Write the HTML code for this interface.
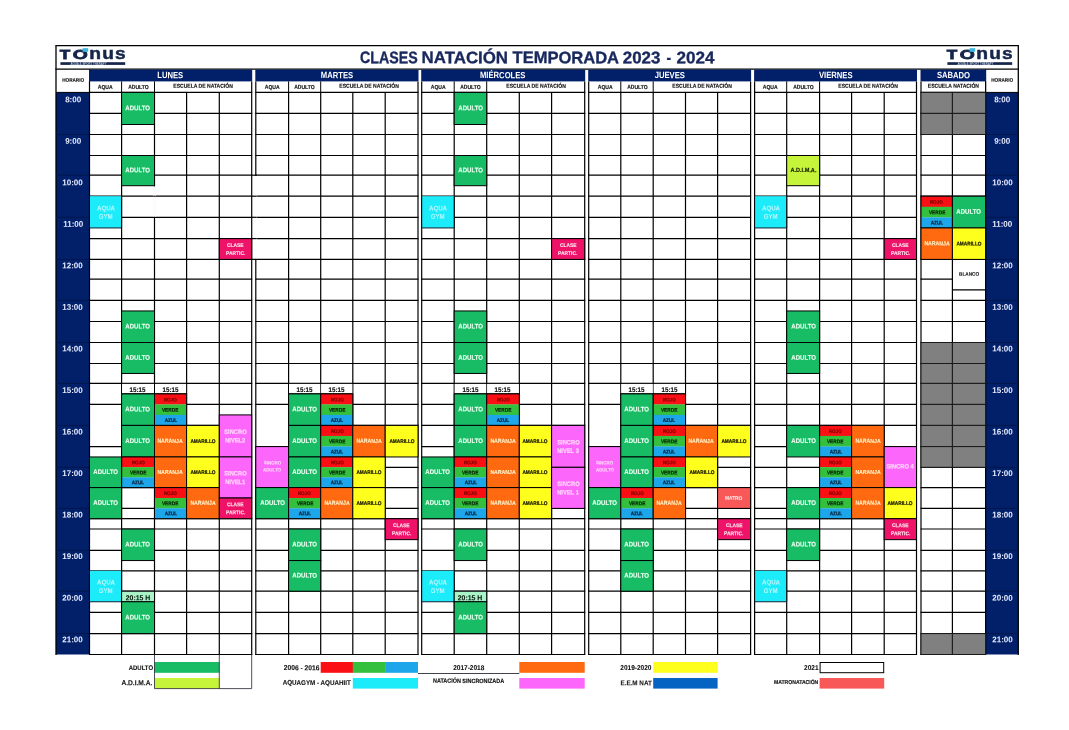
<!DOCTYPE html>
<html lang="es"><head><meta charset="utf-8"><title>Clases Natación Temporada 2023 - 2024</title>
<style>
html,body{margin:0;padding:0;background:#fff}
#p{position:relative;width:1069px;height:730px;overflow:hidden;background:#fff;font-family:"Liberation Sans",Arial,sans-serif}
#p .t{position:absolute;display:block;white-space:nowrap;font-weight:700}
</style></head>
<body><div id="p">
<svg id="g" width="1069" height="730" viewBox="0 0 1069 730" style="position:absolute;left:0;top:0" fill="none">
<rect x="56" y="92.4" width="33.5" height="562.1" fill="#02206a"/>
<rect x="985.6" y="92.4" width="32.7" height="562.1" fill="#02206a"/>
<path d="M55.35 45.7H1018.95" stroke="#000" stroke-width="1.3"/>
<path d="M55.35 69.2H1018.95" stroke="#000" stroke-width="1.3"/>
<path d="M56 45.7V655" stroke="#000" stroke-width="1.3"/>
<path d="M1018.3 45.7V655" stroke="#000" stroke-width="1.3"/>
<path d="M56 92.4H89.5" stroke="#000" stroke-width="1"/>
<path d="M985.6 92.4H1018.3" stroke="#000" stroke-width="1"/>
<path d="M89.5 69.2V92.4" stroke="#000" stroke-width="1"/>
<path d="M985.6 69.2V92.4" stroke="#000" stroke-width="1"/>
<path d="M56 134.5H89.5" stroke="#00164c" stroke-width="1"/>
<path d="M985.6 134.5H1018.3" stroke="#00164c" stroke-width="1"/>
<path d="M56 175.2H89.5" stroke="#00164c" stroke-width="1"/>
<path d="M985.6 175.2H1018.3" stroke="#00164c" stroke-width="1"/>
<path d="M56 217.3H89.5" stroke="#00164c" stroke-width="1"/>
<path d="M985.6 217.3H1018.3" stroke="#00164c" stroke-width="1"/>
<path d="M56 259.4H89.5" stroke="#00164c" stroke-width="1"/>
<path d="M985.6 259.4H1018.3" stroke="#00164c" stroke-width="1"/>
<path d="M56 300.4H89.5" stroke="#00164c" stroke-width="1"/>
<path d="M985.6 300.4H1018.3" stroke="#00164c" stroke-width="1"/>
<path d="M56 342.5H89.5" stroke="#00164c" stroke-width="1"/>
<path d="M985.6 342.5H1018.3" stroke="#00164c" stroke-width="1"/>
<path d="M56 383.4H89.5" stroke="#00164c" stroke-width="1"/>
<path d="M985.6 383.4H1018.3" stroke="#00164c" stroke-width="1"/>
<path d="M56 425.4H89.5" stroke="#00164c" stroke-width="1"/>
<path d="M985.6 425.4H1018.3" stroke="#00164c" stroke-width="1"/>
<path d="M56 467.3H89.5" stroke="#00164c" stroke-width="1"/>
<path d="M985.6 467.3H1018.3" stroke="#00164c" stroke-width="1"/>
<path d="M56 508.4H89.5" stroke="#00164c" stroke-width="1"/>
<path d="M985.6 508.4H1018.3" stroke="#00164c" stroke-width="1"/>
<path d="M56 550.3H89.5" stroke="#00164c" stroke-width="1"/>
<path d="M985.6 550.3H1018.3" stroke="#00164c" stroke-width="1"/>
<path d="M56 591.2H89.5" stroke="#00164c" stroke-width="1"/>
<path d="M985.6 591.2H1018.3" stroke="#00164c" stroke-width="1"/>
<path d="M56 633.6H89.5" stroke="#00164c" stroke-width="1"/>
<path d="M985.6 633.6H1018.3" stroke="#00164c" stroke-width="1"/>
<rect x="89" y="69.6" width="163.2" height="11.8" fill="#02206a"/>
<path d="M121.6 81.4V92.4" stroke="#000" stroke-width="1"/>
<path d="M154.5 81.4V92.4" stroke="#000" stroke-width="1"/>
<rect x="255.3" y="69.6" width="163.2" height="11.8" fill="#02206a"/>
<path d="M288.6 81.4V92.4" stroke="#000" stroke-width="1"/>
<path d="M320.7 81.4V92.4" stroke="#000" stroke-width="1"/>
<rect x="421.2" y="69.6" width="164" height="11.8" fill="#02206a"/>
<path d="M454.2 81.4V92.4" stroke="#000" stroke-width="1"/>
<path d="M486.7 81.4V92.4" stroke="#000" stroke-width="1"/>
<rect x="588.2" y="69.6" width="162.9" height="11.8" fill="#02206a"/>
<path d="M620.8 81.4V92.4" stroke="#000" stroke-width="1"/>
<path d="M653.2 81.4V92.4" stroke="#000" stroke-width="1"/>
<rect x="754.1" y="69.6" width="162.9" height="11.8" fill="#02206a"/>
<path d="M786.7 81.4V92.4" stroke="#000" stroke-width="1"/>
<path d="M819.6 81.4V92.4" stroke="#000" stroke-width="1"/>
<rect x="920.5" y="69.6" width="65.6" height="11.8" fill="#02206a"/>
<path d="M89.5 81.4V655" stroke="#000" stroke-width="1.2"/>
<path d="M121.6 92.4V655" stroke="#000" stroke-width="1.2"/>
<path d="M154.5 92.4V655" stroke="#000" stroke-width="1.2"/>
<path d="M186.6 92.4V655" stroke="#000" stroke-width="1.2"/>
<path d="M219.3 92.4V655" stroke="#000" stroke-width="1.2"/>
<path d="M251.7 81.4V655" stroke="#000" stroke-width="1.2"/>
<path d="M89 92.4H252.2" stroke="#000" stroke-width="1.2"/>
<path d="M89 113.4H122.1" stroke="#000" stroke-width="1.2"/>
<path d="M154 113.4H252.2" stroke="#000" stroke-width="1.2"/>
<path d="M89 134.5H252.2" stroke="#000" stroke-width="1.2"/>
<path d="M89 155.5H252.2" stroke="#000" stroke-width="1.2"/>
<path d="M89 175.2H122.1" stroke="#000" stroke-width="1.2"/>
<path d="M154 175.2H252.2" stroke="#000" stroke-width="1.2"/>
<path d="M89 196.2H252.2" stroke="#000" stroke-width="1.2"/>
<path d="M121.1 217.3H252.2" stroke="#000" stroke-width="1.2"/>
<path d="M89 238.6H252.2" stroke="#000" stroke-width="1.2"/>
<path d="M89 259.4H252.2" stroke="#000" stroke-width="1.2"/>
<path d="M89 279.2H252.2" stroke="#000" stroke-width="1.2"/>
<path d="M89 300.4H252.2" stroke="#000" stroke-width="1.2"/>
<path d="M89 321.5H122.1" stroke="#000" stroke-width="1.2"/>
<path d="M154 321.5H252.2" stroke="#000" stroke-width="1.2"/>
<path d="M89 342.5H252.2" stroke="#000" stroke-width="1.2"/>
<path d="M89 363.5H122.1" stroke="#000" stroke-width="1.2"/>
<path d="M154 363.5H252.2" stroke="#000" stroke-width="1.2"/>
<path d="M89 383.4H252.2" stroke="#000" stroke-width="1.2"/>
<path d="M89 404.4H122.1" stroke="#000" stroke-width="1.2"/>
<path d="M186.1 404.4H252.2" stroke="#000" stroke-width="1.2"/>
<path d="M121.1 425.4H219.8" stroke="#000" stroke-width="1.2"/>
<path d="M89 446.6H122.1" stroke="#000" stroke-width="1.2"/>
<path d="M89 487.6H219.8" stroke="#000" stroke-width="1.2"/>
<path d="M121.1 508.4H155" stroke="#000" stroke-width="1.2"/>
<path d="M89 529H252.2" stroke="#000" stroke-width="1.2"/>
<path d="M89 550.3H122.1" stroke="#000" stroke-width="1.2"/>
<path d="M154 550.3H252.2" stroke="#000" stroke-width="1.2"/>
<path d="M89 570.8H252.2" stroke="#000" stroke-width="1.2"/>
<path d="M121.1 591.2H252.2" stroke="#000" stroke-width="1.2"/>
<path d="M89 612.3H122.1" stroke="#000" stroke-width="1.2"/>
<path d="M154 612.3H252.2" stroke="#000" stroke-width="1.2"/>
<path d="M89 633.6H252.2" stroke="#000" stroke-width="1.2"/>
<path d="M89 654.5H252.2" stroke="#000" stroke-width="1.2"/>
<path d="M89 518.7H252.2" stroke="#000" stroke-width="1.2"/>
<path d="M255.8 81.4V655" stroke="#000" stroke-width="1.2"/>
<path d="M288.6 92.4V655" stroke="#000" stroke-width="1.2"/>
<path d="M320.7 92.4V655" stroke="#000" stroke-width="1.2"/>
<path d="M352.8 92.4V655" stroke="#000" stroke-width="1.2"/>
<path d="M385.2 92.4V655" stroke="#000" stroke-width="1.2"/>
<path d="M418 81.4V655" stroke="#000" stroke-width="1.2"/>
<path d="M255.3 92.4H418.5" stroke="#000" stroke-width="1.2"/>
<path d="M255.3 113.4H418.5" stroke="#000" stroke-width="1.2"/>
<path d="M255.3 134.5H418.5" stroke="#000" stroke-width="1.2"/>
<path d="M255.3 155.5H418.5" stroke="#000" stroke-width="1.2"/>
<path d="M255.3 175.2H418.5" stroke="#000" stroke-width="1.2"/>
<path d="M255.3 196.2H418.5" stroke="#000" stroke-width="1.2"/>
<path d="M255.3 217.3H418.5" stroke="#000" stroke-width="1.2"/>
<path d="M255.3 238.6H418.5" stroke="#000" stroke-width="1.2"/>
<path d="M255.3 259.4H418.5" stroke="#000" stroke-width="1.2"/>
<path d="M255.3 279.2H418.5" stroke="#000" stroke-width="1.2"/>
<path d="M255.3 300.4H418.5" stroke="#000" stroke-width="1.2"/>
<path d="M255.3 321.5H418.5" stroke="#000" stroke-width="1.2"/>
<path d="M255.3 342.5H418.5" stroke="#000" stroke-width="1.2"/>
<path d="M255.3 363.5H418.5" stroke="#000" stroke-width="1.2"/>
<path d="M255.3 383.4H418.5" stroke="#000" stroke-width="1.2"/>
<path d="M255.3 404.4H289.1" stroke="#000" stroke-width="1.2"/>
<path d="M352.3 404.4H418.5" stroke="#000" stroke-width="1.2"/>
<path d="M288.1 425.4H418.5" stroke="#000" stroke-width="1.2"/>
<path d="M255.3 446.6H289.1" stroke="#000" stroke-width="1.2"/>
<path d="M384.7 467.3H418.5" stroke="#000" stroke-width="1.2"/>
<path d="M255.3 487.6H418.5" stroke="#000" stroke-width="1.2"/>
<path d="M384.7 508.4H418.5" stroke="#000" stroke-width="1.2"/>
<path d="M255.3 529H385.7" stroke="#000" stroke-width="1.2"/>
<path d="M255.3 550.3H289.1" stroke="#000" stroke-width="1.2"/>
<path d="M320.2 550.3H418.5" stroke="#000" stroke-width="1.2"/>
<path d="M255.3 570.8H289.1" stroke="#000" stroke-width="1.2"/>
<path d="M320.2 570.8H418.5" stroke="#000" stroke-width="1.2"/>
<path d="M255.3 591.2H418.5" stroke="#000" stroke-width="1.2"/>
<path d="M255.3 612.3H418.5" stroke="#000" stroke-width="1.2"/>
<path d="M255.3 633.6H418.5" stroke="#000" stroke-width="1.2"/>
<path d="M255.3 654.5H418.5" stroke="#000" stroke-width="1.2"/>
<path d="M255.3 518.7H418.5" stroke="#000" stroke-width="1.2"/>
<path d="M421.7 81.4V655" stroke="#000" stroke-width="1.2"/>
<path d="M454.2 92.4V655" stroke="#000" stroke-width="1.2"/>
<path d="M486.7 92.4V655" stroke="#000" stroke-width="1.2"/>
<path d="M519.3 92.4V655" stroke="#000" stroke-width="1.2"/>
<path d="M551.6 92.4V655" stroke="#000" stroke-width="1.2"/>
<path d="M584.7 81.4V655" stroke="#000" stroke-width="1.2"/>
<path d="M421.2 92.4H585.2" stroke="#000" stroke-width="1.2"/>
<path d="M421.2 113.4H454.7" stroke="#000" stroke-width="1.2"/>
<path d="M486.2 113.4H585.2" stroke="#000" stroke-width="1.2"/>
<path d="M421.2 134.5H585.2" stroke="#000" stroke-width="1.2"/>
<path d="M421.2 155.5H585.2" stroke="#000" stroke-width="1.2"/>
<path d="M421.2 175.2H454.7" stroke="#000" stroke-width="1.2"/>
<path d="M486.2 175.2H585.2" stroke="#000" stroke-width="1.2"/>
<path d="M421.2 196.2H585.2" stroke="#000" stroke-width="1.2"/>
<path d="M453.7 217.3H585.2" stroke="#000" stroke-width="1.2"/>
<path d="M421.2 238.6H585.2" stroke="#000" stroke-width="1.2"/>
<path d="M421.2 259.4H585.2" stroke="#000" stroke-width="1.2"/>
<path d="M421.2 279.2H585.2" stroke="#000" stroke-width="1.2"/>
<path d="M421.2 300.4H585.2" stroke="#000" stroke-width="1.2"/>
<path d="M421.2 321.5H454.7" stroke="#000" stroke-width="1.2"/>
<path d="M486.2 321.5H585.2" stroke="#000" stroke-width="1.2"/>
<path d="M421.2 342.5H585.2" stroke="#000" stroke-width="1.2"/>
<path d="M421.2 363.5H454.7" stroke="#000" stroke-width="1.2"/>
<path d="M486.2 363.5H585.2" stroke="#000" stroke-width="1.2"/>
<path d="M421.2 383.4H585.2" stroke="#000" stroke-width="1.2"/>
<path d="M421.2 404.4H454.7" stroke="#000" stroke-width="1.2"/>
<path d="M518.8 404.4H585.2" stroke="#000" stroke-width="1.2"/>
<path d="M421.2 425.4H585.2" stroke="#000" stroke-width="1.2"/>
<path d="M421.2 446.6H454.7" stroke="#000" stroke-width="1.2"/>
<path d="M551.1 467.3H585.2" stroke="#000" stroke-width="1.2"/>
<path d="M421.2 487.6H552.1" stroke="#000" stroke-width="1.2"/>
<path d="M551.1 508.4H585.2" stroke="#000" stroke-width="1.2"/>
<path d="M421.2 529H585.2" stroke="#000" stroke-width="1.2"/>
<path d="M421.2 550.3H454.7" stroke="#000" stroke-width="1.2"/>
<path d="M486.2 550.3H585.2" stroke="#000" stroke-width="1.2"/>
<path d="M421.2 570.8H585.2" stroke="#000" stroke-width="1.2"/>
<path d="M453.7 591.2H585.2" stroke="#000" stroke-width="1.2"/>
<path d="M421.2 612.3H454.7" stroke="#000" stroke-width="1.2"/>
<path d="M486.2 612.3H585.2" stroke="#000" stroke-width="1.2"/>
<path d="M421.2 633.6H585.2" stroke="#000" stroke-width="1.2"/>
<path d="M421.2 654.5H585.2" stroke="#000" stroke-width="1.2"/>
<path d="M421.2 518.7H585.2" stroke="#000" stroke-width="1.2"/>
<path d="M588.7 81.4V655" stroke="#000" stroke-width="1.2"/>
<path d="M620.8 92.4V655" stroke="#000" stroke-width="1.2"/>
<path d="M653.2 92.4V655" stroke="#000" stroke-width="1.2"/>
<path d="M685.5 92.4V655" stroke="#000" stroke-width="1.2"/>
<path d="M717.6 92.4V655" stroke="#000" stroke-width="1.2"/>
<path d="M750.6 81.4V655" stroke="#000" stroke-width="1.2"/>
<path d="M588.2 92.4H751.1" stroke="#000" stroke-width="1.2"/>
<path d="M588.2 113.4H751.1" stroke="#000" stroke-width="1.2"/>
<path d="M588.2 134.5H751.1" stroke="#000" stroke-width="1.2"/>
<path d="M588.2 155.5H751.1" stroke="#000" stroke-width="1.2"/>
<path d="M588.2 175.2H751.1" stroke="#000" stroke-width="1.2"/>
<path d="M588.2 196.2H751.1" stroke="#000" stroke-width="1.2"/>
<path d="M588.2 217.3H751.1" stroke="#000" stroke-width="1.2"/>
<path d="M588.2 238.6H751.1" stroke="#000" stroke-width="1.2"/>
<path d="M588.2 259.4H751.1" stroke="#000" stroke-width="1.2"/>
<path d="M588.2 279.2H751.1" stroke="#000" stroke-width="1.2"/>
<path d="M588.2 300.4H751.1" stroke="#000" stroke-width="1.2"/>
<path d="M588.2 321.5H751.1" stroke="#000" stroke-width="1.2"/>
<path d="M588.2 342.5H751.1" stroke="#000" stroke-width="1.2"/>
<path d="M588.2 363.5H751.1" stroke="#000" stroke-width="1.2"/>
<path d="M588.2 383.4H751.1" stroke="#000" stroke-width="1.2"/>
<path d="M588.2 404.4H621.3" stroke="#000" stroke-width="1.2"/>
<path d="M685 404.4H751.1" stroke="#000" stroke-width="1.2"/>
<path d="M620.3 425.4H751.1" stroke="#000" stroke-width="1.2"/>
<path d="M588.2 446.6H621.3" stroke="#000" stroke-width="1.2"/>
<path d="M717.1 467.3H751.1" stroke="#000" stroke-width="1.2"/>
<path d="M588.2 487.6H751.1" stroke="#000" stroke-width="1.2"/>
<path d="M685 508.4H751.1" stroke="#000" stroke-width="1.2"/>
<path d="M588.2 529H718.1" stroke="#000" stroke-width="1.2"/>
<path d="M588.2 550.3H621.3" stroke="#000" stroke-width="1.2"/>
<path d="M652.7 550.3H751.1" stroke="#000" stroke-width="1.2"/>
<path d="M588.2 570.8H621.3" stroke="#000" stroke-width="1.2"/>
<path d="M652.7 570.8H751.1" stroke="#000" stroke-width="1.2"/>
<path d="M588.2 591.2H751.1" stroke="#000" stroke-width="1.2"/>
<path d="M588.2 612.3H751.1" stroke="#000" stroke-width="1.2"/>
<path d="M588.2 633.6H751.1" stroke="#000" stroke-width="1.2"/>
<path d="M588.2 654.5H751.1" stroke="#000" stroke-width="1.2"/>
<path d="M588.2 518.7H751.1" stroke="#000" stroke-width="1.2"/>
<path d="M754.6 81.4V655" stroke="#000" stroke-width="1.2"/>
<path d="M786.7 92.4V655" stroke="#000" stroke-width="1.2"/>
<path d="M819.6 92.4V655" stroke="#000" stroke-width="1.2"/>
<path d="M851.6 92.4V655" stroke="#000" stroke-width="1.2"/>
<path d="M884.2 92.4V655" stroke="#000" stroke-width="1.2"/>
<path d="M916.5 81.4V655" stroke="#000" stroke-width="1.2"/>
<path d="M754.1 92.4H917" stroke="#000" stroke-width="1.2"/>
<path d="M754.1 113.4H917" stroke="#000" stroke-width="1.2"/>
<path d="M754.1 134.5H917" stroke="#000" stroke-width="1.2"/>
<path d="M754.1 155.5H917" stroke="#000" stroke-width="1.2"/>
<path d="M754.1 175.2H787.2" stroke="#000" stroke-width="1.2"/>
<path d="M819.1 175.2H917" stroke="#000" stroke-width="1.2"/>
<path d="M754.1 196.2H917" stroke="#000" stroke-width="1.2"/>
<path d="M786.2 217.3H917" stroke="#000" stroke-width="1.2"/>
<path d="M754.1 238.6H917" stroke="#000" stroke-width="1.2"/>
<path d="M754.1 259.4H917" stroke="#000" stroke-width="1.2"/>
<path d="M754.1 279.2H917" stroke="#000" stroke-width="1.2"/>
<path d="M754.1 300.4H917" stroke="#000" stroke-width="1.2"/>
<path d="M754.1 321.5H787.2" stroke="#000" stroke-width="1.2"/>
<path d="M819.1 321.5H917" stroke="#000" stroke-width="1.2"/>
<path d="M754.1 342.5H917" stroke="#000" stroke-width="1.2"/>
<path d="M754.1 363.5H787.2" stroke="#000" stroke-width="1.2"/>
<path d="M819.1 363.5H917" stroke="#000" stroke-width="1.2"/>
<path d="M754.1 383.4H917" stroke="#000" stroke-width="1.2"/>
<path d="M754.1 404.4H917" stroke="#000" stroke-width="1.2"/>
<path d="M754.1 425.4H917" stroke="#000" stroke-width="1.2"/>
<path d="M754.1 446.6H787.2" stroke="#000" stroke-width="1.2"/>
<path d="M883.7 446.6H917" stroke="#000" stroke-width="1.2"/>
<path d="M754.1 467.3H820.1" stroke="#000" stroke-width="1.2"/>
<path d="M754.1 487.6H917" stroke="#000" stroke-width="1.2"/>
<path d="M754.1 508.4H787.2" stroke="#000" stroke-width="1.2"/>
<path d="M754.1 529H884.7" stroke="#000" stroke-width="1.2"/>
<path d="M754.1 550.3H787.2" stroke="#000" stroke-width="1.2"/>
<path d="M819.1 550.3H917" stroke="#000" stroke-width="1.2"/>
<path d="M754.1 570.8H917" stroke="#000" stroke-width="1.2"/>
<path d="M786.2 591.2H917" stroke="#000" stroke-width="1.2"/>
<path d="M754.1 612.3H917" stroke="#000" stroke-width="1.2"/>
<path d="M754.1 633.6H917" stroke="#000" stroke-width="1.2"/>
<path d="M754.1 654.5H917" stroke="#000" stroke-width="1.2"/>
<path d="M754.1 518.7H917" stroke="#000" stroke-width="1.2"/>
<path d="M921 81.4V655" stroke="#000" stroke-width="1.2"/>
<path d="M952.4 92.4V655" stroke="#000" stroke-width="1.2"/>
<path d="M985.6 81.4V655" stroke="#000" stroke-width="1.2"/>
<path d="M920.5 92.4H986.1" stroke="#000" stroke-width="1.2"/>
<path d="M920.5 113.4H986.1" stroke="#000" stroke-width="1.2"/>
<path d="M920.5 134.5H986.1" stroke="#000" stroke-width="1.2"/>
<path d="M920.5 155.5H986.1" stroke="#000" stroke-width="1.2"/>
<path d="M920.5 175.2H986.1" stroke="#000" stroke-width="1.2"/>
<path d="M920.5 196.2H986.1" stroke="#000" stroke-width="1.2"/>
<path d="M920.5 259.4H986.1" stroke="#000" stroke-width="1.2"/>
<path d="M920.5 279.2H952.9" stroke="#000" stroke-width="1.2"/>
<path d="M920.5 300.4H986.1" stroke="#000" stroke-width="1.2"/>
<path d="M920.5 321.5H986.1" stroke="#000" stroke-width="1.2"/>
<path d="M920.5 342.5H986.1" stroke="#000" stroke-width="1.2"/>
<path d="M920.5 363.5H986.1" stroke="#000" stroke-width="1.2"/>
<path d="M920.5 383.4H986.1" stroke="#000" stroke-width="1.2"/>
<path d="M920.5 404.4H986.1" stroke="#000" stroke-width="1.2"/>
<path d="M920.5 425.4H986.1" stroke="#000" stroke-width="1.2"/>
<path d="M920.5 446.6H986.1" stroke="#000" stroke-width="1.2"/>
<path d="M920.5 467.3H986.1" stroke="#000" stroke-width="1.2"/>
<path d="M920.5 487.6H986.1" stroke="#000" stroke-width="1.2"/>
<path d="M920.5 508.4H986.1" stroke="#000" stroke-width="1.2"/>
<path d="M920.5 529H986.1" stroke="#000" stroke-width="1.2"/>
<path d="M920.5 550.3H986.1" stroke="#000" stroke-width="1.2"/>
<path d="M920.5 570.8H986.1" stroke="#000" stroke-width="1.2"/>
<path d="M920.5 591.2H986.1" stroke="#000" stroke-width="1.2"/>
<path d="M920.5 612.3H986.1" stroke="#000" stroke-width="1.2"/>
<path d="M920.5 633.6H986.1" stroke="#000" stroke-width="1.2"/>
<path d="M920.5 654.5H986.1" stroke="#000" stroke-width="1.2"/>
<rect x="254.5" y="175.8" width="2.6" height="83" fill="#fff"/>
<path d="M251.7 175.2H256.8" stroke="#000" stroke-width="1.2"/>
<path d="M251.7 196.2H256.8" stroke="#000" stroke-width="1.2"/>
<path d="M251.7 217.3H256.8" stroke="#000" stroke-width="1.2"/>
<path d="M251.7 238.6H256.8" stroke="#000" stroke-width="1.2"/>
<path d="M251.7 259.4H256.8" stroke="#000" stroke-width="1.2"/>
<rect x="153.2" y="186.3" width="2.6" height="9.3" fill="#fff"/>
<rect x="153.2" y="196.8" width="2.6" height="19.9" fill="#fff"/>
<rect x="121.6" y="92.4" width="32.9" height="32.1" fill="#18bc64" stroke="#000" stroke-width="1"/>
<rect x="121.6" y="155.5" width="32.9" height="30.2" fill="#18bc64" stroke="#000" stroke-width="1"/>
<rect x="89.5" y="196.2" width="32.1" height="31.75" fill="#1cecfa"/>
<path d="M89.5 227.95H121.6" stroke="#123" stroke-width="1"/>
<path d="M121.6 196.2V227.95" stroke="#000" stroke-width="1"/>
<path d="M89.5 196.2V227.95" stroke="#000" stroke-width="1"/>
<rect x="219.3" y="238.6" width="32.4" height="20.8" fill="#ee1268" stroke="#000" stroke-width="1"/>
<rect x="121.6" y="310.95" width="32.9" height="31.55" fill="#18bc64" stroke="#000" stroke-width="1"/>
<rect x="121.6" y="342.5" width="32.9" height="30.95" fill="#18bc64" stroke="#000" stroke-width="1"/>
<rect x="454.2" y="92.4" width="32.5" height="32.1" fill="#18bc64" stroke="#000" stroke-width="1"/>
<rect x="454.2" y="155.5" width="32.5" height="30.2" fill="#18bc64" stroke="#000" stroke-width="1"/>
<rect x="421.7" y="196.2" width="32.5" height="31.75" fill="#1cecfa"/>
<path d="M421.7 227.95H454.2" stroke="#123" stroke-width="1"/>
<path d="M454.2 196.2V227.95" stroke="#000" stroke-width="1"/>
<path d="M421.7 196.2V227.95" stroke="#000" stroke-width="1"/>
<rect x="551.6" y="238.6" width="33.1" height="20.8" fill="#ee1268" stroke="#000" stroke-width="1"/>
<rect x="454.2" y="310.95" width="32.5" height="31.55" fill="#18bc64" stroke="#000" stroke-width="1"/>
<rect x="454.2" y="342.5" width="32.5" height="30.95" fill="#18bc64" stroke="#000" stroke-width="1"/>
<rect x="786.7" y="155.5" width="32.9" height="30.2" fill="#c6f43a" stroke="#000" stroke-width="1"/>
<rect x="754.6" y="196.2" width="32.1" height="31.75" fill="#1cecfa"/>
<path d="M754.6 227.95H786.7" stroke="#123" stroke-width="1"/>
<path d="M786.7 196.2V227.95" stroke="#000" stroke-width="1"/>
<path d="M754.6 196.2V227.95" stroke="#000" stroke-width="1"/>
<rect x="884.2" y="238.6" width="32.3" height="20.8" fill="#ee1268" stroke="#000" stroke-width="1"/>
<rect x="786.7" y="310.95" width="32.9" height="31.55" fill="#18bc64" stroke="#000" stroke-width="1"/>
<rect x="786.7" y="342.5" width="32.9" height="30.95" fill="#18bc64" stroke="#000" stroke-width="1"/>
<rect x="122.1" y="383.9" width="31.9" height="10" fill="#fff"/>
<path d="M121.6 393.9H154.5" stroke="#000" stroke-width="1.2"/>
<rect x="155" y="383.9" width="31.1" height="10" fill="#fff"/>
<path d="M154.5 393.9H186.6" stroke="#000" stroke-width="1.2"/>
<rect x="121.6" y="393.9" width="32.9" height="31.5" fill="#18bc64" stroke="#000" stroke-width="1"/>
<rect x="121.6" y="425.4" width="32.9" height="31.55" fill="#18bc64" stroke="#000" stroke-width="1"/>
<rect x="121.6" y="456.95" width="32.9" height="10.42" fill="#fa0f14"/>
<rect x="121.6" y="467.17" width="32.9" height="10.42" fill="#34c03c"/>
<rect x="121.6" y="477.38" width="32.9" height="10.22" fill="#1ea6ea"/>
<rect x="121.6" y="456.95" width="32.9" height="30.65" fill="none" stroke="#000" stroke-width="1"/>
<rect x="121.6" y="529" width="32.9" height="31.55" fill="#18bc64" stroke="#000" stroke-width="1"/>
<rect x="89.5" y="456.95" width="32.1" height="30.65" fill="#18bc64" stroke="#000" stroke-width="1"/>
<rect x="89.5" y="487.6" width="32.1" height="31.1" fill="#18bc64" stroke="#000" stroke-width="1"/>
<rect x="154.5" y="393.9" width="32.1" height="10.7" fill="#fa0f14"/>
<rect x="154.5" y="404.4" width="32.1" height="10.7" fill="#34c03c"/>
<rect x="154.5" y="414.9" width="32.1" height="10.5" fill="#1ea6ea"/>
<rect x="154.5" y="393.9" width="32.1" height="31.5" fill="none" stroke="#000" stroke-width="1"/>
<rect x="154.5" y="425.4" width="32.1" height="31.55" fill="#ff6a10" stroke="#000" stroke-width="1"/>
<rect x="154.5" y="456.95" width="32.1" height="30.65" fill="#ff6a10" stroke="#000" stroke-width="1"/>
<rect x="154.5" y="487.6" width="32.1" height="10.57" fill="#fa0f14"/>
<rect x="154.5" y="497.97" width="32.1" height="10.57" fill="#34c03c"/>
<rect x="154.5" y="508.33" width="32.1" height="10.37" fill="#1ea6ea"/>
<rect x="154.5" y="487.6" width="32.1" height="31.1" fill="none" stroke="#000" stroke-width="1"/>
<rect x="186.6" y="425.4" width="32.7" height="31.55" fill="#ffff1e" stroke="#000" stroke-width="1"/>
<rect x="186.6" y="456.95" width="32.7" height="30.65" fill="#ffff1e" stroke="#000" stroke-width="1"/>
<rect x="186.6" y="487.6" width="32.7" height="31.1" fill="#ff6a10" stroke="#000" stroke-width="1"/>
<rect x="219.3" y="414.9" width="32.4" height="42.05" fill="#fd66fa" stroke="#000" stroke-width="1"/>
<rect x="219.3" y="456.95" width="32.4" height="41.05" fill="#fd66fa" stroke="#000" stroke-width="1"/>
<rect x="219.3" y="498" width="32.4" height="20.7" fill="#ee1268" stroke="#000" stroke-width="1"/>
<rect x="89.5" y="570.8" width="32.1" height="30.95" fill="#1cecfa"/>
<path d="M89.5 601.75H121.6" stroke="#123" stroke-width="1"/>
<path d="M121.6 570.8V601.75" stroke="#000" stroke-width="1"/>
<path d="M89.5 570.8V601.75" stroke="#000" stroke-width="1"/>
<rect x="121.6" y="591.2" width="32.9" height="10.55" fill="#a8f4c6" stroke="#000" stroke-width="1"/>
<rect x="121.6" y="601.75" width="32.9" height="31.85" fill="#18bc64" stroke="#000" stroke-width="1"/>
<rect x="255.8" y="446.6" width="32.8" height="41" fill="#fd66fa" stroke="#000" stroke-width="1"/>
<rect x="255.8" y="487.6" width="32.8" height="31.1" fill="#18bc64" stroke="#000" stroke-width="1"/>
<rect x="289.1" y="383.9" width="31.1" height="10" fill="#fff"/>
<path d="M288.6 393.9H320.7" stroke="#000" stroke-width="1.2"/>
<rect x="321.2" y="383.9" width="31.1" height="10" fill="#fff"/>
<path d="M320.7 393.9H352.8" stroke="#000" stroke-width="1.2"/>
<rect x="288.6" y="393.9" width="32.1" height="31.5" fill="#18bc64" stroke="#000" stroke-width="1"/>
<rect x="288.6" y="425.4" width="32.1" height="31.55" fill="#18bc64" stroke="#000" stroke-width="1"/>
<rect x="288.6" y="456.95" width="32.1" height="30.65" fill="#18bc64" stroke="#000" stroke-width="1"/>
<rect x="288.6" y="487.6" width="32.1" height="10.57" fill="#fa0f14"/>
<rect x="288.6" y="497.97" width="32.1" height="10.57" fill="#34c03c"/>
<rect x="288.6" y="508.33" width="32.1" height="10.37" fill="#1ea6ea"/>
<rect x="288.6" y="487.6" width="32.1" height="31.1" fill="none" stroke="#000" stroke-width="1"/>
<rect x="288.6" y="529" width="32.1" height="31.55" fill="#18bc64" stroke="#000" stroke-width="1"/>
<rect x="288.6" y="560.55" width="32.1" height="30.65" fill="#18bc64" stroke="#000" stroke-width="1"/>
<rect x="320.7" y="393.9" width="32.1" height="10.7" fill="#fa0f14"/>
<rect x="320.7" y="404.4" width="32.1" height="10.7" fill="#34c03c"/>
<rect x="320.7" y="414.9" width="32.1" height="10.5" fill="#1ea6ea"/>
<rect x="320.7" y="393.9" width="32.1" height="31.5" fill="none" stroke="#000" stroke-width="1"/>
<rect x="320.7" y="425.4" width="32.1" height="10.72" fill="#fa0f14"/>
<rect x="320.7" y="435.92" width="32.1" height="10.72" fill="#34c03c"/>
<rect x="320.7" y="446.43" width="32.1" height="10.52" fill="#1ea6ea"/>
<rect x="320.7" y="425.4" width="32.1" height="31.55" fill="none" stroke="#000" stroke-width="1"/>
<rect x="320.7" y="456.95" width="32.1" height="10.42" fill="#fa0f14"/>
<rect x="320.7" y="467.17" width="32.1" height="10.42" fill="#34c03c"/>
<rect x="320.7" y="477.38" width="32.1" height="10.22" fill="#1ea6ea"/>
<rect x="320.7" y="456.95" width="32.1" height="30.65" fill="none" stroke="#000" stroke-width="1"/>
<rect x="320.7" y="487.6" width="32.1" height="31.1" fill="#ff6a10" stroke="#000" stroke-width="1"/>
<rect x="352.8" y="425.4" width="32.4" height="31.55" fill="#ff6a10" stroke="#000" stroke-width="1"/>
<rect x="352.8" y="456.95" width="32.4" height="30.65" fill="#ffff1e" stroke="#000" stroke-width="1"/>
<rect x="385.2" y="425.4" width="32.8" height="31.55" fill="#ffff1e" stroke="#000" stroke-width="1"/>
<rect x="385.2" y="518.7" width="32.8" height="20.95" fill="#ee1268" stroke="#000" stroke-width="1"/>
<rect x="588.7" y="446.6" width="32.1" height="41" fill="#fd66fa" stroke="#000" stroke-width="1"/>
<rect x="588.7" y="487.6" width="32.1" height="31.1" fill="#18bc64" stroke="#000" stroke-width="1"/>
<rect x="621.3" y="383.9" width="31.4" height="10" fill="#fff"/>
<path d="M620.8 393.9H653.2" stroke="#000" stroke-width="1.2"/>
<rect x="653.7" y="383.9" width="31.3" height="10" fill="#fff"/>
<path d="M653.2 393.9H685.5" stroke="#000" stroke-width="1.2"/>
<rect x="620.8" y="393.9" width="32.4" height="31.5" fill="#18bc64" stroke="#000" stroke-width="1"/>
<rect x="620.8" y="425.4" width="32.4" height="31.55" fill="#18bc64" stroke="#000" stroke-width="1"/>
<rect x="620.8" y="456.95" width="32.4" height="30.65" fill="#18bc64" stroke="#000" stroke-width="1"/>
<rect x="620.8" y="487.6" width="32.4" height="10.57" fill="#fa0f14"/>
<rect x="620.8" y="497.97" width="32.4" height="10.57" fill="#34c03c"/>
<rect x="620.8" y="508.33" width="32.4" height="10.37" fill="#1ea6ea"/>
<rect x="620.8" y="487.6" width="32.4" height="31.1" fill="none" stroke="#000" stroke-width="1"/>
<rect x="620.8" y="529" width="32.4" height="31.55" fill="#18bc64" stroke="#000" stroke-width="1"/>
<rect x="620.8" y="560.55" width="32.4" height="30.65" fill="#18bc64" stroke="#000" stroke-width="1"/>
<rect x="653.2" y="393.9" width="32.3" height="10.7" fill="#fa0f14"/>
<rect x="653.2" y="404.4" width="32.3" height="10.7" fill="#34c03c"/>
<rect x="653.2" y="414.9" width="32.3" height="10.5" fill="#1ea6ea"/>
<rect x="653.2" y="393.9" width="32.3" height="31.5" fill="none" stroke="#000" stroke-width="1"/>
<rect x="653.2" y="425.4" width="32.3" height="10.72" fill="#fa0f14"/>
<rect x="653.2" y="435.92" width="32.3" height="10.72" fill="#34c03c"/>
<rect x="653.2" y="446.43" width="32.3" height="10.52" fill="#1ea6ea"/>
<rect x="653.2" y="425.4" width="32.3" height="31.55" fill="none" stroke="#000" stroke-width="1"/>
<rect x="653.2" y="456.95" width="32.3" height="10.42" fill="#fa0f14"/>
<rect x="653.2" y="467.17" width="32.3" height="10.42" fill="#34c03c"/>
<rect x="653.2" y="477.38" width="32.3" height="10.22" fill="#1ea6ea"/>
<rect x="653.2" y="456.95" width="32.3" height="30.65" fill="none" stroke="#000" stroke-width="1"/>
<rect x="653.2" y="487.6" width="32.3" height="31.1" fill="#ff6a10" stroke="#000" stroke-width="1"/>
<rect x="685.5" y="425.4" width="32.1" height="31.55" fill="#ff6a10" stroke="#000" stroke-width="1"/>
<rect x="685.5" y="456.95" width="32.1" height="30.65" fill="#ffff1e" stroke="#000" stroke-width="1"/>
<rect x="717.6" y="425.4" width="33" height="31.55" fill="#ffff1e" stroke="#000" stroke-width="1"/>
<rect x="717.6" y="518.7" width="33" height="20.95" fill="#ee1268" stroke="#000" stroke-width="1"/>
<rect x="352.8" y="487.6" width="32.4" height="31.1" fill="#ffff1e" stroke="#000" stroke-width="1"/>
<rect x="717.6" y="487.6" width="33" height="20.8" fill="#f85858" stroke="#000" stroke-width="1"/>
<rect x="421.7" y="456.95" width="32.5" height="30.65" fill="#18bc64" stroke="#000" stroke-width="1"/>
<rect x="421.7" y="487.6" width="32.5" height="31.1" fill="#18bc64" stroke="#000" stroke-width="1"/>
<rect x="421.7" y="570.8" width="32.5" height="30.95" fill="#1cecfa"/>
<path d="M421.7 601.75H454.2" stroke="#123" stroke-width="1"/>
<path d="M454.2 570.8V601.75" stroke="#000" stroke-width="1"/>
<path d="M421.7 570.8V601.75" stroke="#000" stroke-width="1"/>
<rect x="454.7" y="383.9" width="31.5" height="10" fill="#fff"/>
<path d="M454.2 393.9H486.7" stroke="#000" stroke-width="1.2"/>
<rect x="487.2" y="383.9" width="31.6" height="10" fill="#fff"/>
<path d="M486.7 393.9H519.3" stroke="#000" stroke-width="1.2"/>
<rect x="454.2" y="393.9" width="32.5" height="31.5" fill="#18bc64" stroke="#000" stroke-width="1"/>
<rect x="454.2" y="425.4" width="32.5" height="31.55" fill="#18bc64" stroke="#000" stroke-width="1"/>
<rect x="454.2" y="456.95" width="32.5" height="10.42" fill="#fa0f14"/>
<rect x="454.2" y="467.17" width="32.5" height="10.42" fill="#34c03c"/>
<rect x="454.2" y="477.38" width="32.5" height="10.22" fill="#1ea6ea"/>
<rect x="454.2" y="456.95" width="32.5" height="30.65" fill="none" stroke="#000" stroke-width="1"/>
<rect x="454.2" y="487.6" width="32.5" height="10.57" fill="#fa0f14"/>
<rect x="454.2" y="497.97" width="32.5" height="10.57" fill="#34c03c"/>
<rect x="454.2" y="508.33" width="32.5" height="10.37" fill="#1ea6ea"/>
<rect x="454.2" y="487.6" width="32.5" height="31.1" fill="none" stroke="#000" stroke-width="1"/>
<rect x="454.2" y="529" width="32.5" height="31.55" fill="#18bc64" stroke="#000" stroke-width="1"/>
<rect x="454.2" y="591.2" width="32.5" height="10.55" fill="#a8f4c6" stroke="#000" stroke-width="1"/>
<rect x="454.2" y="601.75" width="32.5" height="31.85" fill="#18bc64" stroke="#000" stroke-width="1"/>
<rect x="486.7" y="393.9" width="32.6" height="10.7" fill="#fa0f14"/>
<rect x="486.7" y="404.4" width="32.6" height="10.7" fill="#34c03c"/>
<rect x="486.7" y="414.9" width="32.6" height="10.5" fill="#1ea6ea"/>
<rect x="486.7" y="393.9" width="32.6" height="31.5" fill="none" stroke="#000" stroke-width="1"/>
<rect x="486.7" y="425.4" width="32.6" height="31.55" fill="#ff6a10" stroke="#000" stroke-width="1"/>
<rect x="486.7" y="456.95" width="32.6" height="30.65" fill="#ff6a10" stroke="#000" stroke-width="1"/>
<rect x="486.7" y="487.6" width="32.6" height="31.1" fill="#ff6a10" stroke="#000" stroke-width="1"/>
<rect x="519.3" y="425.4" width="32.3" height="31.55" fill="#ffff1e" stroke="#000" stroke-width="1"/>
<rect x="519.3" y="456.95" width="32.3" height="30.65" fill="#ffff1e" stroke="#000" stroke-width="1"/>
<rect x="519.3" y="487.6" width="32.3" height="31.1" fill="#ffff1e" stroke="#000" stroke-width="1"/>
<rect x="551.6" y="425.4" width="33.1" height="41.9" fill="#fd66fa" stroke="#000" stroke-width="1"/>
<rect x="551.6" y="467.3" width="33.1" height="41.1" fill="#fd66fa" stroke="#000" stroke-width="1"/>
<rect x="754.6" y="570.8" width="32.1" height="30.95" fill="#1cecfa"/>
<path d="M754.6 601.75H786.7" stroke="#123" stroke-width="1"/>
<path d="M786.7 570.8V601.75" stroke="#000" stroke-width="1"/>
<path d="M754.6 570.8V601.75" stroke="#000" stroke-width="1"/>
<rect x="786.7" y="425.4" width="32.9" height="31.55" fill="#18bc64" stroke="#000" stroke-width="1"/>
<rect x="786.7" y="487.6" width="32.9" height="31.1" fill="#18bc64" stroke="#000" stroke-width="1"/>
<rect x="786.7" y="529" width="32.9" height="31.55" fill="#18bc64" stroke="#000" stroke-width="1"/>
<rect x="819.6" y="425.4" width="32" height="10.72" fill="#fa0f14"/>
<rect x="819.6" y="435.92" width="32" height="10.72" fill="#34c03c"/>
<rect x="819.6" y="446.43" width="32" height="10.52" fill="#1ea6ea"/>
<rect x="819.6" y="425.4" width="32" height="31.55" fill="none" stroke="#000" stroke-width="1"/>
<rect x="819.6" y="456.95" width="32" height="10.42" fill="#fa0f14"/>
<rect x="819.6" y="467.17" width="32" height="10.42" fill="#34c03c"/>
<rect x="819.6" y="477.38" width="32" height="10.22" fill="#1ea6ea"/>
<rect x="819.6" y="456.95" width="32" height="30.65" fill="none" stroke="#000" stroke-width="1"/>
<rect x="819.6" y="487.6" width="32" height="10.57" fill="#fa0f14"/>
<rect x="819.6" y="497.97" width="32" height="10.57" fill="#34c03c"/>
<rect x="819.6" y="508.33" width="32" height="10.37" fill="#1ea6ea"/>
<rect x="819.6" y="487.6" width="32" height="31.1" fill="none" stroke="#000" stroke-width="1"/>
<rect x="851.6" y="425.4" width="32.6" height="31.55" fill="#ff6a10" stroke="#000" stroke-width="1"/>
<rect x="851.6" y="456.95" width="32.6" height="30.65" fill="#ff6a10" stroke="#000" stroke-width="1"/>
<rect x="851.6" y="487.6" width="32.6" height="31.1" fill="#ff6a10" stroke="#000" stroke-width="1"/>
<rect x="884.2" y="446.6" width="32.3" height="41" fill="#fd66fa" stroke="#000" stroke-width="1"/>
<rect x="884.2" y="487.6" width="32.3" height="31.1" fill="#ffff1e" stroke="#000" stroke-width="1"/>
<rect x="884.2" y="518.7" width="32.3" height="20.95" fill="#ee1268" stroke="#000" stroke-width="1"/>
<rect x="921" y="92.4" width="31.4" height="21" fill="#808080" stroke="#1a1a1a" stroke-width="1"/>
<rect x="921" y="113.4" width="31.4" height="21.1" fill="#808080" stroke="#1a1a1a" stroke-width="1"/>
<rect x="921" y="342.5" width="31.4" height="21" fill="#808080" stroke="#1a1a1a" stroke-width="1"/>
<rect x="921" y="363.5" width="31.4" height="19.9" fill="#808080" stroke="#1a1a1a" stroke-width="1"/>
<rect x="921" y="383.4" width="31.4" height="21" fill="#808080" stroke="#1a1a1a" stroke-width="1"/>
<rect x="921" y="404.4" width="31.4" height="21" fill="#808080" stroke="#1a1a1a" stroke-width="1"/>
<rect x="921" y="425.4" width="31.4" height="21.2" fill="#808080" stroke="#1a1a1a" stroke-width="1"/>
<rect x="921" y="446.6" width="31.4" height="20.7" fill="#808080" stroke="#1a1a1a" stroke-width="1"/>
<rect x="921" y="633.6" width="31.4" height="20.9" fill="#808080" stroke="#1a1a1a" stroke-width="1"/>
<rect x="952.4" y="92.4" width="33.2" height="21" fill="#808080" stroke="#1a1a1a" stroke-width="1"/>
<rect x="952.4" y="113.4" width="33.2" height="21.1" fill="#808080" stroke="#1a1a1a" stroke-width="1"/>
<rect x="952.4" y="342.5" width="33.2" height="21" fill="#808080" stroke="#1a1a1a" stroke-width="1"/>
<rect x="952.4" y="363.5" width="33.2" height="19.9" fill="#808080" stroke="#1a1a1a" stroke-width="1"/>
<rect x="952.4" y="383.4" width="33.2" height="21" fill="#808080" stroke="#1a1a1a" stroke-width="1"/>
<rect x="952.4" y="404.4" width="33.2" height="21" fill="#808080" stroke="#1a1a1a" stroke-width="1"/>
<rect x="952.4" y="425.4" width="33.2" height="21.2" fill="#808080" stroke="#1a1a1a" stroke-width="1"/>
<rect x="952.4" y="446.6" width="33.2" height="20.7" fill="#808080" stroke="#1a1a1a" stroke-width="1"/>
<rect x="952.4" y="633.6" width="33.2" height="20.9" fill="#808080" stroke="#1a1a1a" stroke-width="1"/>
<rect x="921" y="196.2" width="31.4" height="10.78" fill="#fa0f14"/>
<rect x="921" y="206.78" width="31.4" height="10.78" fill="#34c03c"/>
<rect x="921" y="217.37" width="31.4" height="10.58" fill="#1ea6ea"/>
<rect x="921" y="196.2" width="31.4" height="31.75" fill="none" stroke="#000" stroke-width="1"/>
<rect x="952.4" y="196.2" width="33.2" height="31.75" fill="#18bc64" stroke="#000" stroke-width="1"/>
<rect x="921" y="227.95" width="31.4" height="31.45" fill="#ff6a10" stroke="#000" stroke-width="1"/>
<rect x="952.4" y="227.95" width="33.2" height="31.45" fill="#ffff1e" stroke="#000" stroke-width="1"/>
<rect x="953" y="260" width="32" height="29.8" fill="#fff"/>
<path d="M952.4 289.8H985.6" stroke="#000" stroke-width="1.2"/>
<rect x="154.5" y="662" width="64.8" height="10.8" fill="#18bc64"/>
<rect x="154.5" y="678" width="64.8" height="10.6" fill="#c6f43a"/>
<path d="M154.5 654.5V688.6" stroke="#223" stroke-width="0.8"/>
<path d="M219.3 654.5V688.6" stroke="#223" stroke-width="0.8"/>
<path d="M251.7 654.5V688.6" stroke="#223" stroke-width="0.8"/>
<path d="M154.5 688.6H251.7" stroke="#223" stroke-width="0.8"/>
<rect x="320.7" y="662" width="32.3" height="10.8" fill="#fa0f14"/>
<rect x="352.8" y="662" width="32.6" height="10.8" fill="#34c03c"/>
<rect x="385.2" y="662" width="32.8" height="10.8" fill="#1ea6ea"/>
<rect x="352.8" y="678" width="65.2" height="10.6" fill="#1cecfa"/>
<rect x="519.3" y="662" width="65.4" height="10.8" fill="#ff6a10"/>
<rect x="519.3" y="678" width="65.4" height="10.6" fill="#fd66fa"/>
<path d="M418 673.5H519.3" stroke="#112" stroke-width="0.8"/>
<rect x="653.2" y="662" width="64.4" height="10.8" fill="#ffff1e"/>
<rect x="653.2" y="678" width="64.4" height="10.6" fill="#0563c1"/>
<rect x="820.1" y="662.5" width="63.6" height="10.2" fill="#fff" stroke="#000" stroke-width="1"/>
<rect x="819.6" y="678" width="64.6" height="10.6" fill="#f85858"/>
</svg>
<span class="t" style="font-size:5.15px;line-height:6.18px;top:76px;width:32.32px;color:#111;left:56.99px;text-align:center;transform:translateY(0.76px) rotate(.2deg) scaleX(0.9);transform-origin:center center;-webkit-text-stroke:0.15px #111;">HORARIO</span>
<span class="t" style="font-size:5.15px;line-height:6.18px;top:76px;width:32.32px;color:#111;left:986.19px;text-align:center;transform:translateY(0.76px) rotate(.2deg) scaleX(0.9);transform-origin:center center;-webkit-text-stroke:0.15px #111;">HORARIO</span>
<span class="t" style="font-size:8.2px;line-height:9.84px;top:95px;width:24.41px;color:#e6ebff;left:60.74px;text-align:center;transform:translateY(0.16px) rotate(.2deg) scaleX(0.98);transform-origin:center center;">8:00</span>
<span class="t" style="font-size:8.2px;line-height:9.84px;top:95px;width:24.41px;color:#e6ebff;left:989.94px;text-align:center;transform:translateY(0.16px) rotate(.2deg) scaleX(0.98);transform-origin:center center;">8:00</span>
<span class="t" style="font-size:8.2px;line-height:9.84px;top:136px;width:24.41px;color:#e6ebff;left:60.74px;text-align:center;transform:translateY(0.7px) rotate(.2deg) scaleX(0.98);transform-origin:center center;">9:00</span>
<span class="t" style="font-size:8.2px;line-height:9.84px;top:136px;width:24.41px;color:#e6ebff;left:989.94px;text-align:center;transform:translateY(0.7px) rotate(.2deg) scaleX(0.98);transform-origin:center center;">9:00</span>
<span class="t" style="font-size:8.2px;line-height:9.84px;top:178px;width:28.97px;color:#e6ebff;left:58.46px;text-align:center;transform:translateY(0.24px) rotate(.2deg) scaleX(0.98);transform-origin:center center;">10:00</span>
<span class="t" style="font-size:8.2px;line-height:9.84px;top:178px;width:28.97px;color:#e6ebff;left:987.66px;text-align:center;transform:translateY(0.24px) rotate(.2deg) scaleX(0.98);transform-origin:center center;">10:00</span>
<span class="t" style="font-size:8.2px;line-height:9.84px;top:219px;width:28.52px;color:#e6ebff;left:58.69px;text-align:center;transform:translateY(0.78px) rotate(.2deg) scaleX(0.98);transform-origin:center center;">11:00</span>
<span class="t" style="font-size:8.2px;line-height:9.84px;top:219px;width:28.52px;color:#e6ebff;left:987.89px;text-align:center;transform:translateY(0.78px) rotate(.2deg) scaleX(0.98);transform-origin:center center;">11:00</span>
<span class="t" style="font-size:8.2px;line-height:9.84px;top:261px;width:28.97px;color:#e6ebff;left:58.46px;text-align:center;transform:translateY(0.32px) rotate(.2deg) scaleX(0.98);transform-origin:center center;">12:00</span>
<span class="t" style="font-size:8.2px;line-height:9.84px;top:261px;width:28.97px;color:#e6ebff;left:987.66px;text-align:center;transform:translateY(0.32px) rotate(.2deg) scaleX(0.98);transform-origin:center center;">12:00</span>
<span class="t" style="font-size:8.2px;line-height:9.84px;top:302px;width:28.97px;color:#e6ebff;left:58.46px;text-align:center;transform:translateY(0.86px) rotate(.2deg) scaleX(0.98);transform-origin:center center;">13:00</span>
<span class="t" style="font-size:8.2px;line-height:9.84px;top:302px;width:28.97px;color:#e6ebff;left:987.66px;text-align:center;transform:translateY(0.86px) rotate(.2deg) scaleX(0.98);transform-origin:center center;">13:00</span>
<span class="t" style="font-size:8.2px;line-height:9.84px;top:344px;width:28.97px;color:#e6ebff;left:58.46px;text-align:center;transform:translateY(0.4px) rotate(.2deg) scaleX(0.98);transform-origin:center center;">14:00</span>
<span class="t" style="font-size:8.2px;line-height:9.84px;top:344px;width:28.97px;color:#e6ebff;left:987.66px;text-align:center;transform:translateY(0.4px) rotate(.2deg) scaleX(0.98);transform-origin:center center;">14:00</span>
<span class="t" style="font-size:8.2px;line-height:9.84px;top:385px;width:28.97px;color:#e6ebff;left:58.46px;text-align:center;transform:translateY(0.94px) rotate(.2deg) scaleX(0.98);transform-origin:center center;">15:00</span>
<span class="t" style="font-size:8.2px;line-height:9.84px;top:385px;width:28.97px;color:#e6ebff;left:987.66px;text-align:center;transform:translateY(0.94px) rotate(.2deg) scaleX(0.98);transform-origin:center center;">15:00</span>
<span class="t" style="font-size:8.2px;line-height:9.84px;top:427px;width:28.97px;color:#e6ebff;left:58.46px;text-align:center;transform:translateY(0.48px) rotate(.2deg) scaleX(0.98);transform-origin:center center;">16:00</span>
<span class="t" style="font-size:8.2px;line-height:9.84px;top:427px;width:28.97px;color:#e6ebff;left:987.66px;text-align:center;transform:translateY(0.48px) rotate(.2deg) scaleX(0.98);transform-origin:center center;">16:00</span>
<span class="t" style="font-size:8.2px;line-height:9.84px;top:469px;width:28.97px;color:#e6ebff;left:58.46px;text-align:center;transform:translateY(0.02px) rotate(.2deg) scaleX(0.98);transform-origin:center center;">17:00</span>
<span class="t" style="font-size:8.2px;line-height:9.84px;top:469px;width:28.97px;color:#e6ebff;left:987.66px;text-align:center;transform:translateY(0.02px) rotate(.2deg) scaleX(0.98);transform-origin:center center;">17:00</span>
<span class="t" style="font-size:8.2px;line-height:9.84px;top:510px;width:28.97px;color:#e6ebff;left:58.46px;text-align:center;transform:translateY(0.56px) rotate(.2deg) scaleX(0.98);transform-origin:center center;">18:00</span>
<span class="t" style="font-size:8.2px;line-height:9.84px;top:510px;width:28.97px;color:#e6ebff;left:987.66px;text-align:center;transform:translateY(0.56px) rotate(.2deg) scaleX(0.98);transform-origin:center center;">18:00</span>
<span class="t" style="font-size:8.2px;line-height:9.84px;top:552px;width:28.97px;color:#e6ebff;left:58.46px;text-align:center;transform:translateY(0.1px) rotate(.2deg) scaleX(0.98);transform-origin:center center;">19:00</span>
<span class="t" style="font-size:8.2px;line-height:9.84px;top:552px;width:28.97px;color:#e6ebff;left:987.66px;text-align:center;transform:translateY(0.1px) rotate(.2deg) scaleX(0.98);transform-origin:center center;">19:00</span>
<span class="t" style="font-size:8.2px;line-height:9.84px;top:593px;width:28.97px;color:#e6ebff;left:58.46px;text-align:center;transform:translateY(0.64px) rotate(.2deg) scaleX(0.98);transform-origin:center center;">20:00</span>
<span class="t" style="font-size:8.2px;line-height:9.84px;top:593px;width:28.97px;color:#e6ebff;left:987.66px;text-align:center;transform:translateY(0.64px) rotate(.2deg) scaleX(0.98);transform-origin:center center;">20:00</span>
<span class="t" style="font-size:8.2px;line-height:9.84px;top:635px;width:28.97px;color:#e6ebff;left:58.46px;text-align:center;transform:translateY(0.18px) rotate(.2deg) scaleX(0.98);transform-origin:center center;">21:00</span>
<span class="t" style="font-size:8.2px;line-height:9.84px;top:635px;width:28.97px;color:#e6ebff;left:987.66px;text-align:center;transform:translateY(0.18px) rotate(.2deg) scaleX(0.98);transform-origin:center center;">21:00</span>
<span class="t" style="font-size:9px;line-height:10.8px;top:70px;width:38.5px;color:#fff;left:151.35px;text-align:center;transform:translateY(0.14px) rotate(.2deg) scaleX(0.85);transform-origin:center center;">LUNES</span>
<span class="t" style="font-size:5.6px;line-height:6.72px;top:83px;width:24.49px;color:#111;left:93.31px;text-align:center;transform:translateY(0.89px) rotate(.2deg) scaleX(0.9);transform-origin:center center;-webkit-text-stroke:0.15px #111;">AQUA</span>
<span class="t" style="font-size:5.6px;line-height:6.72px;top:83px;width:30.81px;color:#111;left:122.64px;text-align:center;transform:translateY(0.89px) rotate(.2deg) scaleX(0.9);transform-origin:center center;-webkit-text-stroke:0.15px #111;">ADULTO</span>
<span class="t" style="font-size:5.6px;line-height:6.72px;top:82px;width:74.16px;color:#111;left:166.02px;text-align:center;transform:translateY(0.79px) rotate(.2deg) scaleX(0.9);transform-origin:center center;-webkit-text-stroke:0.15px #111;">ESCUELA DE NATACIÓN</span>
<span class="t" style="font-size:9px;line-height:10.8px;top:70px;width:46px;color:#fff;left:313.9px;text-align:center;transform:translateY(0.14px) rotate(.2deg) scaleX(0.85);transform-origin:center center;">MARTES</span>
<span class="t" style="font-size:5.6px;line-height:6.72px;top:83px;width:24.49px;color:#111;left:259.96px;text-align:center;transform:translateY(0.89px) rotate(.2deg) scaleX(0.9);transform-origin:center center;-webkit-text-stroke:0.15px #111;">AQUA</span>
<span class="t" style="font-size:5.6px;line-height:6.72px;top:83px;width:30.81px;color:#111;left:289.24px;text-align:center;transform:translateY(0.89px) rotate(.2deg) scaleX(0.9);transform-origin:center center;-webkit-text-stroke:0.15px #111;">ADULTO</span>
<span class="t" style="font-size:5.6px;line-height:6.72px;top:82px;width:74.16px;color:#111;left:332.27px;text-align:center;transform:translateY(0.79px) rotate(.2deg) scaleX(0.9);transform-origin:center center;-webkit-text-stroke:0.15px #111;">ESCUELA DE NATACIÓN</span>
<span class="t" style="font-size:9px;line-height:10.8px;top:70px;width:61.5px;color:#fff;left:472.45px;text-align:center;transform:translateY(0.14px) rotate(.2deg) scaleX(0.85);transform-origin:center center;">MIÉRCOLES</span>
<span class="t" style="font-size:5.6px;line-height:6.72px;top:83px;width:24.49px;color:#111;left:425.71px;text-align:center;transform:translateY(0.89px) rotate(.2deg) scaleX(0.9);transform-origin:center center;-webkit-text-stroke:0.15px #111;">AQUA</span>
<span class="t" style="font-size:5.6px;line-height:6.72px;top:83px;width:30.81px;color:#111;left:455.04px;text-align:center;transform:translateY(0.89px) rotate(.2deg) scaleX(0.9);transform-origin:center center;-webkit-text-stroke:0.15px #111;">ADULTO</span>
<span class="t" style="font-size:5.6px;line-height:6.72px;top:82px;width:74.16px;color:#111;left:498.62px;text-align:center;transform:translateY(0.79px) rotate(.2deg) scaleX(0.9);transform-origin:center center;-webkit-text-stroke:0.15px #111;">ESCUELA DE NATACIÓN</span>
<span class="t" style="font-size:9px;line-height:10.8px;top:70px;width:43.52px;color:#fff;left:647.89px;text-align:center;transform:translateY(0.14px) rotate(.2deg) scaleX(0.85);transform-origin:center center;">JUEVES</span>
<span class="t" style="font-size:5.6px;line-height:6.72px;top:83px;width:24.49px;color:#111;left:592.51px;text-align:center;transform:translateY(0.89px) rotate(.2deg) scaleX(0.9);transform-origin:center center;-webkit-text-stroke:0.15px #111;">AQUA</span>
<span class="t" style="font-size:5.6px;line-height:6.72px;top:83px;width:30.81px;color:#111;left:621.59px;text-align:center;transform:translateY(0.89px) rotate(.2deg) scaleX(0.9);transform-origin:center center;-webkit-text-stroke:0.15px #111;">ADULTO</span>
<span class="t" style="font-size:5.6px;line-height:6.72px;top:82px;width:74.16px;color:#111;left:664.82px;text-align:center;transform:translateY(0.79px) rotate(.2deg) scaleX(0.9);transform-origin:center center;-webkit-text-stroke:0.15px #111;">ESCUELA DE NATACIÓN</span>
<span class="t" style="font-size:9px;line-height:10.8px;top:70px;width:47.51px;color:#fff;left:811.79px;text-align:center;transform:translateY(0.14px) rotate(.2deg) scaleX(0.85);transform-origin:center center;">VIERNES</span>
<span class="t" style="font-size:5.6px;line-height:6.72px;top:83px;width:24.49px;color:#111;left:758.41px;text-align:center;transform:translateY(0.89px) rotate(.2deg) scaleX(0.9);transform-origin:center center;-webkit-text-stroke:0.15px #111;">AQUA</span>
<span class="t" style="font-size:5.6px;line-height:6.72px;top:83px;width:30.81px;color:#111;left:787.74px;text-align:center;transform:translateY(0.89px) rotate(.2deg) scaleX(0.9);transform-origin:center center;-webkit-text-stroke:0.15px #111;">ADULTO</span>
<span class="t" style="font-size:5.6px;line-height:6.72px;top:82px;width:74.16px;color:#111;left:830.97px;text-align:center;transform:translateY(0.79px) rotate(.2deg) scaleX(0.9);transform-origin:center center;-webkit-text-stroke:0.15px #111;">ESCUELA DE NATACIÓN</span>
<span class="t" style="font-size:9px;line-height:10.8px;top:70px;width:47px;color:#fff;left:929.8px;text-align:center;transform:translateY(0.14px) rotate(.2deg) scaleX(0.85);transform-origin:center center;">SABADO</span>
<span class="t" style="font-size:5.6px;line-height:6.72px;top:82px;width:64.83px;color:#111;left:920.89px;text-align:center;transform:translateY(0.79px) rotate(.2deg) scaleX(0.9);transform-origin:center center;-webkit-text-stroke:0.15px #111;">ESCUELA NATACIÓN</span>
<span class="t" style="font-size:6.7px;line-height:8.04px;top:104px;width:35.29px;color:#eefff2;left:120.4px;text-align:center;transform:translateY(0.2px) rotate(.2deg) scaleX(0.9);transform-origin:center center;-webkit-text-stroke:0.12px #eefff2;">ADULTO</span>
<span class="t" style="font-size:6.7px;line-height:8.04px;top:166px;width:35.29px;color:#eefff2;left:120.4px;text-align:center;transform:translateY(0.35px) rotate(.2deg) scaleX(0.9);transform-origin:center center;-webkit-text-stroke:0.12px #eefff2;">ADULTO</span>
<span class="t" style="font-size:6.8px;line-height:8.16px;top:204px;width:28.02px;color:#bcf8ff;left:91.54px;text-align:center;transform:translateY(0.42px) rotate(.2deg) scaleX(0.9);transform-origin:center center;">AQUA</span>
<span class="t" style="font-size:6.8px;line-height:8.16px;top:212px;width:23.49px;color:#bcf8ff;left:93.81px;text-align:center;transform:translateY(0.72px) rotate(.2deg) scaleX(0.9);transform-origin:center center;">GYM</span>
<span class="t" style="font-size:5.45px;line-height:6.54px;top:241px;width:26.47px;color:#ffe6ee;left:222.26px;text-align:center;transform:translateY(0.98px) rotate(.2deg) scaleX(0.9);transform-origin:center center;-webkit-text-stroke:0.12px #ffe6ee;">CLASE</span>
<span class="t" style="font-size:5.45px;line-height:6.54px;top:249px;width:29.4px;color:#ffe6ee;left:220.8px;text-align:center;transform:translateY(0.98px) rotate(.2deg) scaleX(0.9);transform-origin:center center;-webkit-text-stroke:0.12px #ffe6ee;">PARTIC.</span>
<span class="t" style="font-size:6.7px;line-height:8.04px;top:322px;width:35.29px;color:#eefff2;left:120.4px;text-align:center;transform:translateY(0.47px) rotate(.2deg) scaleX(0.9);transform-origin:center center;-webkit-text-stroke:0.12px #eefff2;">ADULTO</span>
<span class="t" style="font-size:6.7px;line-height:8.04px;top:353px;width:35.29px;color:#eefff2;left:120.4px;text-align:center;transform:translateY(0.72px) rotate(.2deg) scaleX(0.9);transform-origin:center center;-webkit-text-stroke:0.12px #eefff2;">ADULTO</span>
<span class="t" style="font-size:6.7px;line-height:8.04px;top:104px;width:35.29px;color:#eefff2;left:452.8px;text-align:center;transform:translateY(0.2px) rotate(.2deg) scaleX(0.9);transform-origin:center center;-webkit-text-stroke:0.12px #eefff2;">ADULTO</span>
<span class="t" style="font-size:6.7px;line-height:8.04px;top:166px;width:35.29px;color:#eefff2;left:452.8px;text-align:center;transform:translateY(0.35px) rotate(.2deg) scaleX(0.9);transform-origin:center center;-webkit-text-stroke:0.12px #eefff2;">ADULTO</span>
<span class="t" style="font-size:6.8px;line-height:8.16px;top:204px;width:28.02px;color:#bcf8ff;left:423.94px;text-align:center;transform:translateY(0.42px) rotate(.2deg) scaleX(0.9);transform-origin:center center;">AQUA</span>
<span class="t" style="font-size:6.8px;line-height:8.16px;top:212px;width:23.49px;color:#bcf8ff;left:426.21px;text-align:center;transform:translateY(0.72px) rotate(.2deg) scaleX(0.9);transform-origin:center center;">GYM</span>
<span class="t" style="font-size:5.45px;line-height:6.54px;top:241px;width:26.47px;color:#ffe6ee;left:554.91px;text-align:center;transform:translateY(0.98px) rotate(.2deg) scaleX(0.9);transform-origin:center center;-webkit-text-stroke:0.12px #ffe6ee;">CLASE</span>
<span class="t" style="font-size:5.45px;line-height:6.54px;top:249px;width:29.4px;color:#ffe6ee;left:553.45px;text-align:center;transform:translateY(0.98px) rotate(.2deg) scaleX(0.9);transform-origin:center center;-webkit-text-stroke:0.12px #ffe6ee;">PARTIC.</span>
<span class="t" style="font-size:6.7px;line-height:8.04px;top:322px;width:35.29px;color:#eefff2;left:452.8px;text-align:center;transform:translateY(0.47px) rotate(.2deg) scaleX(0.9);transform-origin:center center;-webkit-text-stroke:0.12px #eefff2;">ADULTO</span>
<span class="t" style="font-size:6.7px;line-height:8.04px;top:353px;width:35.29px;color:#eefff2;left:452.8px;text-align:center;transform:translateY(0.72px) rotate(.2deg) scaleX(0.9);transform-origin:center center;-webkit-text-stroke:0.12px #eefff2;">ADULTO</span>
<span class="t" style="font-size:6.2px;line-height:7.44px;top:166px;width:36.93px;color:#101800;left:784.68px;text-align:center;transform:translateY(0.12px) rotate(.2deg) scaleX(0.9);transform-origin:center center;-webkit-text-stroke:0.1px #101800;">A.D.I.M.A.</span>
<span class="t" style="font-size:6.8px;line-height:8.16px;top:204px;width:28.02px;color:#bcf8ff;left:756.64px;text-align:center;transform:translateY(0.42px) rotate(.2deg) scaleX(0.9);transform-origin:center center;">AQUA</span>
<span class="t" style="font-size:6.8px;line-height:8.16px;top:212px;width:23.49px;color:#bcf8ff;left:758.91px;text-align:center;transform:translateY(0.72px) rotate(.2deg) scaleX(0.9);transform-origin:center center;">GYM</span>
<span class="t" style="font-size:5.45px;line-height:6.54px;top:241px;width:26.47px;color:#ffe6ee;left:887.11px;text-align:center;transform:translateY(0.98px) rotate(.2deg) scaleX(0.9);transform-origin:center center;-webkit-text-stroke:0.12px #ffe6ee;">CLASE</span>
<span class="t" style="font-size:5.45px;line-height:6.54px;top:249px;width:29.4px;color:#ffe6ee;left:885.65px;text-align:center;transform:translateY(0.98px) rotate(.2deg) scaleX(0.9);transform-origin:center center;-webkit-text-stroke:0.12px #ffe6ee;">PARTIC.</span>
<span class="t" style="font-size:6.7px;line-height:8.04px;top:322px;width:35.29px;color:#eefff2;left:785.5px;text-align:center;transform:translateY(0.47px) rotate(.2deg) scaleX(0.9);transform-origin:center center;-webkit-text-stroke:0.12px #eefff2;">ADULTO</span>
<span class="t" style="font-size:6.7px;line-height:8.04px;top:353px;width:35.29px;color:#eefff2;left:785.5px;text-align:center;transform:translateY(0.72px) rotate(.2deg) scaleX(0.9);transform-origin:center center;-webkit-text-stroke:0.12px #eefff2;">ADULTO</span>
<span class="t" style="font-size:6.7px;line-height:8.04px;top:386px;width:25.14px;color:#111;left:125.48px;text-align:center;transform:translateY(0.1px) rotate(.2deg) scaleX(0.93);transform-origin:center center;-webkit-text-stroke:0.15px #111;">15:15</span>
<span class="t" style="font-size:6.7px;line-height:8.04px;top:386px;width:25.14px;color:#111;left:157.98px;text-align:center;transform:translateY(0.1px) rotate(.2deg) scaleX(0.93);transform-origin:center center;-webkit-text-stroke:0.15px #111;">15:15</span>
<span class="t" style="font-size:6.7px;line-height:8.04px;top:405px;width:35.29px;color:#eefff2;left:120.4px;text-align:center;transform:translateY(0.4px) rotate(.2deg) scaleX(0.9);transform-origin:center center;-webkit-text-stroke:0.12px #eefff2;">ADULTO</span>
<span class="t" style="font-size:6.7px;line-height:8.04px;top:436px;width:35.29px;color:#eefff2;left:120.4px;text-align:center;transform:translateY(0.92px) rotate(.2deg) scaleX(0.9);transform-origin:center center;-webkit-text-stroke:0.12px #eefff2;">ADULTO</span>
<span class="t" style="font-size:5.1px;line-height:6.12px;top:459px;width:22.45px;color:#780000;left:126.82px;text-align:center;transform:translateY(0.31px) rotate(.2deg) scaleX(0.9);transform-origin:center center;-webkit-text-stroke:0.15px #780000;">ROJO</span>
<span class="t" style="font-size:5.3px;line-height:6.36px;top:469px;width:26.26px;color:#06280a;left:124.92px;text-align:center;transform:translateY(0.46px) rotate(.2deg) scaleX(0.9);transform-origin:center center;-webkit-text-stroke:0.22px #06280a;">VERDE</span>
<span class="t" style="font-size:5.2px;line-height:6.24px;top:479px;width:21.86px;color:#05203a;left:127.12px;text-align:center;transform:translateY(0.27px) rotate(.2deg) scaleX(0.9);transform-origin:center center;-webkit-text-stroke:0.22px #05203a;">AZUL</span>
<span class="t" style="font-size:6.7px;line-height:8.04px;top:540px;width:35.29px;color:#eefff2;left:120.4px;text-align:center;transform:translateY(0.52px) rotate(.2deg) scaleX(0.9);transform-origin:center center;-webkit-text-stroke:0.12px #eefff2;">ADULTO</span>
<span class="t" style="font-size:6.7px;line-height:8.04px;top:468px;width:35.29px;color:#eefff2;left:87.9px;text-align:center;transform:translateY(0.02px) rotate(.2deg) scaleX(0.9);transform-origin:center center;-webkit-text-stroke:0.12px #eefff2;">ADULTO</span>
<span class="t" style="font-size:6.7px;line-height:8.04px;top:498px;width:35.29px;color:#eefff2;left:87.9px;text-align:center;transform:translateY(0.9px) rotate(.2deg) scaleX(0.9);transform-origin:center center;-webkit-text-stroke:0.12px #eefff2;">ADULTO</span>
<span class="t" style="font-size:5.1px;line-height:6.12px;top:396px;width:22.45px;color:#780000;left:159.32px;text-align:center;transform:translateY(0.4px) rotate(.2deg) scaleX(0.9);transform-origin:center center;-webkit-text-stroke:0.15px #780000;">ROJO</span>
<span class="t" style="font-size:5.3px;line-height:6.36px;top:406px;width:26.26px;color:#06280a;left:157.42px;text-align:center;transform:translateY(0.83px) rotate(.2deg) scaleX(0.9);transform-origin:center center;-webkit-text-stroke:0.22px #06280a;">VERDE</span>
<span class="t" style="font-size:5.2px;line-height:6.24px;top:416px;width:21.86px;color:#05203a;left:159.62px;text-align:center;transform:translateY(0.93px) rotate(.2deg) scaleX(0.9);transform-origin:center center;-webkit-text-stroke:0.22px #05203a;">AZUL</span>
<span class="t" style="font-size:5.75px;line-height:6.9px;top:437px;width:36.11px;color:#ffecc0;left:152.49px;text-align:center;transform:translateY(0.87px) rotate(.2deg) scaleX(0.9);transform-origin:center center;-webkit-text-stroke:0.15px #ffecc0;">NARANJA</span>
<span class="t" style="font-size:5.75px;line-height:6.9px;top:468px;width:36.11px;color:#ffecc0;left:152.49px;text-align:center;transform:translateY(0.97px) rotate(.2deg) scaleX(0.9);transform-origin:center center;-webkit-text-stroke:0.15px #ffecc0;">NARANJA</span>
<span class="t" style="font-size:5.1px;line-height:6.12px;top:490px;width:22.45px;color:#780000;left:159.32px;text-align:center;transform:translateY(0.04px) rotate(.2deg) scaleX(0.9);transform-origin:center center;-webkit-text-stroke:0.15px #780000;">ROJO</span>
<span class="t" style="font-size:5.3px;line-height:6.36px;top:500px;width:26.26px;color:#06280a;left:157.42px;text-align:center;transform:translateY(0.33px) rotate(.2deg) scaleX(0.9);transform-origin:center center;-webkit-text-stroke:0.22px #06280a;">VERDE</span>
<span class="t" style="font-size:5.2px;line-height:6.24px;top:510px;width:21.86px;color:#05203a;left:159.62px;text-align:center;transform:translateY(0.29px) rotate(.2deg) scaleX(0.9);transform-origin:center center;-webkit-text-stroke:0.22px #05203a;">AZUL</span>
<span class="t" style="font-size:5.3px;line-height:6.36px;top:437px;width:35.97px;color:#1a1a00;left:184.97px;text-align:center;transform:translateY(0.96px) rotate(.2deg) scaleX(0.9);transform-origin:center center;-webkit-text-stroke:0.22px #1a1a00;">AMARILLO</span>
<span class="t" style="font-size:5.3px;line-height:6.36px;top:469px;width:35.97px;color:#1a1a00;left:184.97px;text-align:center;transform:translateY(0.06px) rotate(.2deg) scaleX(0.9);transform-origin:center center;-webkit-text-stroke:0.22px #1a1a00;">AMARILLO</span>
<span class="t" style="font-size:5.75px;line-height:6.9px;top:499px;width:36.11px;color:#ffecc0;left:184.89px;text-align:center;transform:translateY(0.85px) rotate(.2deg) scaleX(0.9);transform-origin:center center;-webkit-text-stroke:0.15px #ffecc0;">NARANJA</span>
<span class="t" style="font-size:6.4px;line-height:7.68px;top:428px;width:32.89px;color:#ffd4fb;left:219.05px;text-align:center;transform:translateY(0px) rotate(.2deg) scaleX(0.9);transform-origin:center center;-webkit-text-stroke:0.22px #ffd4fb;">SINCRO</span>
<span class="t" style="font-size:6.4px;line-height:7.68px;top:436px;width:30.41px;color:#ffd4fb;left:220.3px;text-align:center;transform:translateY(0.6px) rotate(.2deg) scaleX(0.9);transform-origin:center center;-webkit-text-stroke:0.22px #ffd4fb;">NIVEL2</span>
<span class="t" style="font-size:6.4px;line-height:7.68px;top:469px;width:32.89px;color:#ffd4fb;left:219.05px;text-align:center;transform:translateY(0.55px) rotate(.2deg) scaleX(0.9);transform-origin:center center;-webkit-text-stroke:0.22px #ffd4fb;">SINCRO</span>
<span class="t" style="font-size:6.4px;line-height:7.68px;top:478px;width:30.41px;color:#ffd4fb;left:220.3px;text-align:center;transform:translateY(0.15px) rotate(.2deg) scaleX(0.9);transform-origin:center center;-webkit-text-stroke:0.22px #ffd4fb;">NIVEL1</span>
<span class="t" style="font-size:5.45px;line-height:6.54px;top:501px;width:26.47px;color:#ffe6ee;left:222.26px;text-align:center;transform:translateY(0.33px) rotate(.2deg) scaleX(0.9);transform-origin:center center;-webkit-text-stroke:0.12px #ffe6ee;">CLASE</span>
<span class="t" style="font-size:5.45px;line-height:6.54px;top:509px;width:29.4px;color:#ffe6ee;left:220.8px;text-align:center;transform:translateY(0.33px) rotate(.2deg) scaleX(0.9);transform-origin:center center;-webkit-text-stroke:0.12px #ffe6ee;">PARTIC.</span>
<span class="t" style="font-size:6.8px;line-height:8.16px;top:578px;width:28.02px;color:#bcf8ff;left:91.54px;text-align:center;transform:translateY(0.62px) rotate(.2deg) scaleX(0.9);transform-origin:center center;">AQUA</span>
<span class="t" style="font-size:6.8px;line-height:8.16px;top:586px;width:23.49px;color:#bcf8ff;left:93.81px;text-align:center;transform:translateY(0.92px) rotate(.2deg) scaleX(0.9);transform-origin:center center;">GYM</span>
<span class="t" style="font-size:7.3px;line-height:8.76px;top:594px;width:33.97px;color:#0a1a10;left:121.06px;text-align:center;transform:translateY(0.2px) rotate(.2deg) scaleX(0.94);transform-origin:center center;-webkit-text-stroke:0.1px #0a1a10;">20:15 H</span>
<span class="t" style="font-size:6.7px;line-height:8.04px;top:613px;width:35.29px;color:#eefff2;left:120.4px;text-align:center;transform:translateY(0.42px) rotate(.2deg) scaleX(0.9);transform-origin:center center;-webkit-text-stroke:0.12px #eefff2;">ADULTO</span>
<span class="t" style="font-size:4.9px;line-height:5.88px;top:460px;width:27.06px;color:#ffd8fa;left:258.67px;text-align:center;transform:translateY(0.4px) rotate(.2deg) scaleX(0.9);transform-origin:center center;-webkit-text-stroke:0.1px #ffd8fa;">SINCRO</span>
<span class="t" style="font-size:4.9px;line-height:5.88px;top:467px;width:27.96px;color:#ffd8fa;left:258.22px;text-align:center;transform:translateY(0.6px) rotate(.2deg) scaleX(0.9);transform-origin:center center;-webkit-text-stroke:0.1px #ffd8fa;">ADULTO</span>
<span class="t" style="font-size:6.7px;line-height:8.04px;top:498px;width:35.29px;color:#eefff2;left:254.55px;text-align:center;transform:translateY(0.9px) rotate(.2deg) scaleX(0.9);transform-origin:center center;-webkit-text-stroke:0.12px #eefff2;">ADULTO</span>
<span class="t" style="font-size:6.7px;line-height:8.04px;top:386px;width:25.14px;color:#111;left:292.08px;text-align:center;transform:translateY(0.1px) rotate(.2deg) scaleX(0.93);transform-origin:center center;-webkit-text-stroke:0.15px #111;">15:15</span>
<span class="t" style="font-size:6.7px;line-height:8.04px;top:386px;width:25.14px;color:#111;left:324.18px;text-align:center;transform:translateY(0.1px) rotate(.2deg) scaleX(0.93);transform-origin:center center;-webkit-text-stroke:0.15px #111;">15:15</span>
<span class="t" style="font-size:6.7px;line-height:8.04px;top:405px;width:35.29px;color:#eefff2;left:287px;text-align:center;transform:translateY(0.4px) rotate(.2deg) scaleX(0.9);transform-origin:center center;-webkit-text-stroke:0.12px #eefff2;">ADULTO</span>
<span class="t" style="font-size:6.7px;line-height:8.04px;top:436px;width:35.29px;color:#eefff2;left:287px;text-align:center;transform:translateY(0.92px) rotate(.2deg) scaleX(0.9);transform-origin:center center;-webkit-text-stroke:0.12px #eefff2;">ADULTO</span>
<span class="t" style="font-size:6.7px;line-height:8.04px;top:468px;width:35.29px;color:#eefff2;left:287px;text-align:center;transform:translateY(0.02px) rotate(.2deg) scaleX(0.9);transform-origin:center center;-webkit-text-stroke:0.12px #eefff2;">ADULTO</span>
<span class="t" style="font-size:5.1px;line-height:6.12px;top:490px;width:22.45px;color:#780000;left:293.42px;text-align:center;transform:translateY(0.04px) rotate(.2deg) scaleX(0.9);transform-origin:center center;-webkit-text-stroke:0.15px #780000;">ROJO</span>
<span class="t" style="font-size:5.3px;line-height:6.36px;top:500px;width:26.26px;color:#06280a;left:291.52px;text-align:center;transform:translateY(0.33px) rotate(.2deg) scaleX(0.9);transform-origin:center center;-webkit-text-stroke:0.22px #06280a;">VERDE</span>
<span class="t" style="font-size:5.2px;line-height:6.24px;top:510px;width:21.86px;color:#05203a;left:293.72px;text-align:center;transform:translateY(0.29px) rotate(.2deg) scaleX(0.9);transform-origin:center center;-webkit-text-stroke:0.22px #05203a;">AZUL</span>
<span class="t" style="font-size:6.7px;line-height:8.04px;top:540px;width:35.29px;color:#eefff2;left:287px;text-align:center;transform:translateY(0.52px) rotate(.2deg) scaleX(0.9);transform-origin:center center;-webkit-text-stroke:0.12px #eefff2;">ADULTO</span>
<span class="t" style="font-size:6.7px;line-height:8.04px;top:571px;width:35.29px;color:#eefff2;left:287px;text-align:center;transform:translateY(0.62px) rotate(.2deg) scaleX(0.9);transform-origin:center center;-webkit-text-stroke:0.12px #eefff2;">ADULTO</span>
<span class="t" style="font-size:5.1px;line-height:6.12px;top:396px;width:22.45px;color:#780000;left:325.52px;text-align:center;transform:translateY(0.4px) rotate(.2deg) scaleX(0.9);transform-origin:center center;-webkit-text-stroke:0.15px #780000;">ROJO</span>
<span class="t" style="font-size:5.3px;line-height:6.36px;top:406px;width:26.26px;color:#06280a;left:323.62px;text-align:center;transform:translateY(0.83px) rotate(.2deg) scaleX(0.9);transform-origin:center center;-webkit-text-stroke:0.22px #06280a;">VERDE</span>
<span class="t" style="font-size:5.2px;line-height:6.24px;top:416px;width:21.86px;color:#05203a;left:325.82px;text-align:center;transform:translateY(0.93px) rotate(.2deg) scaleX(0.9);transform-origin:center center;-webkit-text-stroke:0.22px #05203a;">AZUL</span>
<span class="t" style="font-size:5.1px;line-height:6.12px;top:427px;width:22.45px;color:#780000;left:325.52px;text-align:center;transform:translateY(0.91px) rotate(.2deg) scaleX(0.9);transform-origin:center center;-webkit-text-stroke:0.15px #780000;">ROJO</span>
<span class="t" style="font-size:5.3px;line-height:6.36px;top:438px;width:26.26px;color:#06280a;left:323.62px;text-align:center;transform:translateY(0.36px) rotate(.2deg) scaleX(0.9);transform-origin:center center;-webkit-text-stroke:0.22px #06280a;">VERDE</span>
<span class="t" style="font-size:5.2px;line-height:6.24px;top:448px;width:21.86px;color:#05203a;left:325.82px;text-align:center;transform:translateY(0.47px) rotate(.2deg) scaleX(0.9);transform-origin:center center;-webkit-text-stroke:0.22px #05203a;">AZUL</span>
<span class="t" style="font-size:5.1px;line-height:6.12px;top:459px;width:22.45px;color:#780000;left:325.52px;text-align:center;transform:translateY(0.31px) rotate(.2deg) scaleX(0.9);transform-origin:center center;-webkit-text-stroke:0.15px #780000;">ROJO</span>
<span class="t" style="font-size:5.3px;line-height:6.36px;top:469px;width:26.26px;color:#06280a;left:323.62px;text-align:center;transform:translateY(0.46px) rotate(.2deg) scaleX(0.9);transform-origin:center center;-webkit-text-stroke:0.22px #06280a;">VERDE</span>
<span class="t" style="font-size:5.2px;line-height:6.24px;top:479px;width:21.86px;color:#05203a;left:325.82px;text-align:center;transform:translateY(0.27px) rotate(.2deg) scaleX(0.9);transform-origin:center center;-webkit-text-stroke:0.22px #05203a;">AZUL</span>
<span class="t" style="font-size:5.75px;line-height:6.9px;top:499px;width:36.11px;color:#ffecc0;left:318.69px;text-align:center;transform:translateY(0.85px) rotate(.2deg) scaleX(0.9);transform-origin:center center;-webkit-text-stroke:0.15px #ffecc0;">NARANJA</span>
<span class="t" style="font-size:5.75px;line-height:6.9px;top:437px;width:36.11px;color:#ffecc0;left:350.94px;text-align:center;transform:translateY(0.87px) rotate(.2deg) scaleX(0.9);transform-origin:center center;-webkit-text-stroke:0.15px #ffecc0;">NARANJA</span>
<span class="t" style="font-size:5.3px;line-height:6.36px;top:469px;width:35.97px;color:#1a1a00;left:351.02px;text-align:center;transform:translateY(0.06px) rotate(.2deg) scaleX(0.9);transform-origin:center center;-webkit-text-stroke:0.22px #1a1a00;">AMARILLO</span>
<span class="t" style="font-size:5.3px;line-height:6.36px;top:437px;width:35.97px;color:#1a1a00;left:383.62px;text-align:center;transform:translateY(0.96px) rotate(.2deg) scaleX(0.9);transform-origin:center center;-webkit-text-stroke:0.22px #1a1a00;">AMARILLO</span>
<span class="t" style="font-size:5.45px;line-height:6.54px;top:522px;width:26.47px;color:#ffe6ee;left:388.36px;text-align:center;transform:translateY(0.15px) rotate(.2deg) scaleX(0.9);transform-origin:center center;-webkit-text-stroke:0.12px #ffe6ee;">CLASE</span>
<span class="t" style="font-size:5.45px;line-height:6.54px;top:530px;width:29.4px;color:#ffe6ee;left:386.9px;text-align:center;transform:translateY(0.15px) rotate(.2deg) scaleX(0.9);transform-origin:center center;-webkit-text-stroke:0.12px #ffe6ee;">PARTIC.</span>
<span class="t" style="font-size:4.9px;line-height:5.88px;top:460px;width:27.06px;color:#ffd8fa;left:591.22px;text-align:center;transform:translateY(0.4px) rotate(.2deg) scaleX(0.9);transform-origin:center center;-webkit-text-stroke:0.1px #ffd8fa;">SINCRO</span>
<span class="t" style="font-size:4.9px;line-height:5.88px;top:467px;width:27.96px;color:#ffd8fa;left:590.77px;text-align:center;transform:translateY(0.6px) rotate(.2deg) scaleX(0.9);transform-origin:center center;-webkit-text-stroke:0.1px #ffd8fa;">ADULTO</span>
<span class="t" style="font-size:6.7px;line-height:8.04px;top:498px;width:35.29px;color:#eefff2;left:587.1px;text-align:center;transform:translateY(0.9px) rotate(.2deg) scaleX(0.9);transform-origin:center center;-webkit-text-stroke:0.12px #eefff2;">ADULTO</span>
<span class="t" style="font-size:6.7px;line-height:8.04px;top:386px;width:25.14px;color:#111;left:624.43px;text-align:center;transform:translateY(0.1px) rotate(.2deg) scaleX(0.93);transform-origin:center center;-webkit-text-stroke:0.15px #111;">15:15</span>
<span class="t" style="font-size:6.7px;line-height:8.04px;top:386px;width:25.14px;color:#111;left:656.78px;text-align:center;transform:translateY(0.1px) rotate(.2deg) scaleX(0.93);transform-origin:center center;-webkit-text-stroke:0.15px #111;">15:15</span>
<span class="t" style="font-size:6.7px;line-height:8.04px;top:405px;width:35.29px;color:#eefff2;left:619.35px;text-align:center;transform:translateY(0.4px) rotate(.2deg) scaleX(0.9);transform-origin:center center;-webkit-text-stroke:0.12px #eefff2;">ADULTO</span>
<span class="t" style="font-size:6.7px;line-height:8.04px;top:436px;width:35.29px;color:#eefff2;left:619.35px;text-align:center;transform:translateY(0.92px) rotate(.2deg) scaleX(0.9);transform-origin:center center;-webkit-text-stroke:0.12px #eefff2;">ADULTO</span>
<span class="t" style="font-size:6.7px;line-height:8.04px;top:468px;width:35.29px;color:#eefff2;left:619.35px;text-align:center;transform:translateY(0.02px) rotate(.2deg) scaleX(0.9);transform-origin:center center;-webkit-text-stroke:0.12px #eefff2;">ADULTO</span>
<span class="t" style="font-size:5.1px;line-height:6.12px;top:490px;width:22.45px;color:#780000;left:625.77px;text-align:center;transform:translateY(0.04px) rotate(.2deg) scaleX(0.9);transform-origin:center center;-webkit-text-stroke:0.15px #780000;">ROJO</span>
<span class="t" style="font-size:5.3px;line-height:6.36px;top:500px;width:26.26px;color:#06280a;left:623.87px;text-align:center;transform:translateY(0.33px) rotate(.2deg) scaleX(0.9);transform-origin:center center;-webkit-text-stroke:0.22px #06280a;">VERDE</span>
<span class="t" style="font-size:5.2px;line-height:6.24px;top:510px;width:21.86px;color:#05203a;left:626.07px;text-align:center;transform:translateY(0.29px) rotate(.2deg) scaleX(0.9);transform-origin:center center;-webkit-text-stroke:0.22px #05203a;">AZUL</span>
<span class="t" style="font-size:6.7px;line-height:8.04px;top:540px;width:35.29px;color:#eefff2;left:619.35px;text-align:center;transform:translateY(0.52px) rotate(.2deg) scaleX(0.9);transform-origin:center center;-webkit-text-stroke:0.12px #eefff2;">ADULTO</span>
<span class="t" style="font-size:6.7px;line-height:8.04px;top:571px;width:35.29px;color:#eefff2;left:619.35px;text-align:center;transform:translateY(0.62px) rotate(.2deg) scaleX(0.9);transform-origin:center center;-webkit-text-stroke:0.12px #eefff2;">ADULTO</span>
<span class="t" style="font-size:5.1px;line-height:6.12px;top:396px;width:22.45px;color:#780000;left:658.12px;text-align:center;transform:translateY(0.4px) rotate(.2deg) scaleX(0.9);transform-origin:center center;-webkit-text-stroke:0.15px #780000;">ROJO</span>
<span class="t" style="font-size:5.3px;line-height:6.36px;top:406px;width:26.26px;color:#06280a;left:656.22px;text-align:center;transform:translateY(0.83px) rotate(.2deg) scaleX(0.9);transform-origin:center center;-webkit-text-stroke:0.22px #06280a;">VERDE</span>
<span class="t" style="font-size:5.2px;line-height:6.24px;top:416px;width:21.86px;color:#05203a;left:658.42px;text-align:center;transform:translateY(0.93px) rotate(.2deg) scaleX(0.9);transform-origin:center center;-webkit-text-stroke:0.22px #05203a;">AZUL</span>
<span class="t" style="font-size:5.1px;line-height:6.12px;top:427px;width:22.45px;color:#780000;left:658.12px;text-align:center;transform:translateY(0.91px) rotate(.2deg) scaleX(0.9);transform-origin:center center;-webkit-text-stroke:0.15px #780000;">ROJO</span>
<span class="t" style="font-size:5.3px;line-height:6.36px;top:438px;width:26.26px;color:#06280a;left:656.22px;text-align:center;transform:translateY(0.36px) rotate(.2deg) scaleX(0.9);transform-origin:center center;-webkit-text-stroke:0.22px #06280a;">VERDE</span>
<span class="t" style="font-size:5.2px;line-height:6.24px;top:448px;width:21.86px;color:#05203a;left:658.42px;text-align:center;transform:translateY(0.47px) rotate(.2deg) scaleX(0.9);transform-origin:center center;-webkit-text-stroke:0.22px #05203a;">AZUL</span>
<span class="t" style="font-size:5.1px;line-height:6.12px;top:459px;width:22.45px;color:#780000;left:658.12px;text-align:center;transform:translateY(0.31px) rotate(.2deg) scaleX(0.9);transform-origin:center center;-webkit-text-stroke:0.15px #780000;">ROJO</span>
<span class="t" style="font-size:5.3px;line-height:6.36px;top:469px;width:26.26px;color:#06280a;left:656.22px;text-align:center;transform:translateY(0.46px) rotate(.2deg) scaleX(0.9);transform-origin:center center;-webkit-text-stroke:0.22px #06280a;">VERDE</span>
<span class="t" style="font-size:5.2px;line-height:6.24px;top:479px;width:21.86px;color:#05203a;left:658.42px;text-align:center;transform:translateY(0.27px) rotate(.2deg) scaleX(0.9);transform-origin:center center;-webkit-text-stroke:0.22px #05203a;">AZUL</span>
<span class="t" style="font-size:5.75px;line-height:6.9px;top:499px;width:36.11px;color:#ffecc0;left:651.29px;text-align:center;transform:translateY(0.85px) rotate(.2deg) scaleX(0.9);transform-origin:center center;-webkit-text-stroke:0.15px #ffecc0;">NARANJA</span>
<span class="t" style="font-size:5.75px;line-height:6.9px;top:437px;width:36.11px;color:#ffecc0;left:683.49px;text-align:center;transform:translateY(0.87px) rotate(.2deg) scaleX(0.9);transform-origin:center center;-webkit-text-stroke:0.15px #ffecc0;">NARANJA</span>
<span class="t" style="font-size:5.3px;line-height:6.36px;top:469px;width:35.97px;color:#1a1a00;left:683.57px;text-align:center;transform:translateY(0.06px) rotate(.2deg) scaleX(0.9);transform-origin:center center;-webkit-text-stroke:0.22px #1a1a00;">AMARILLO</span>
<span class="t" style="font-size:5.3px;line-height:6.36px;top:437px;width:35.97px;color:#1a1a00;left:716.12px;text-align:center;transform:translateY(0.96px) rotate(.2deg) scaleX(0.9);transform-origin:center center;-webkit-text-stroke:0.22px #1a1a00;">AMARILLO</span>
<span class="t" style="font-size:5.45px;line-height:6.54px;top:522px;width:26.47px;color:#ffe6ee;left:720.86px;text-align:center;transform:translateY(0.15px) rotate(.2deg) scaleX(0.9);transform-origin:center center;-webkit-text-stroke:0.12px #ffe6ee;">CLASE</span>
<span class="t" style="font-size:5.45px;line-height:6.54px;top:530px;width:29.4px;color:#ffe6ee;left:719.4px;text-align:center;transform:translateY(0.15px) rotate(.2deg) scaleX(0.9);transform-origin:center center;-webkit-text-stroke:0.12px #ffe6ee;">PARTIC.</span>
<span class="t" style="font-size:5.3px;line-height:6.36px;top:499px;width:35.97px;color:#1a1a00;left:351.02px;text-align:center;transform:translateY(0.93px) rotate(.2deg) scaleX(0.9);transform-origin:center center;-webkit-text-stroke:0.22px #1a1a00;">AMARILLO</span>
<span class="t" style="font-size:5.4px;line-height:6.48px;top:494px;width:27.4px;color:#ffe2e2;left:720.4px;text-align:center;transform:translateY(0.88px) rotate(.2deg) scaleX(0.9);transform-origin:center center;-webkit-text-stroke:0.1px #ffe2e2;">MATRO</span>
<span class="t" style="font-size:6.7px;line-height:8.04px;top:468px;width:35.29px;color:#eefff2;left:420.3px;text-align:center;transform:translateY(0.02px) rotate(.2deg) scaleX(0.9);transform-origin:center center;-webkit-text-stroke:0.12px #eefff2;">ADULTO</span>
<span class="t" style="font-size:6.7px;line-height:8.04px;top:498px;width:35.29px;color:#eefff2;left:420.3px;text-align:center;transform:translateY(0.9px) rotate(.2deg) scaleX(0.9);transform-origin:center center;-webkit-text-stroke:0.12px #eefff2;">ADULTO</span>
<span class="t" style="font-size:6.8px;line-height:8.16px;top:578px;width:28.02px;color:#bcf8ff;left:423.94px;text-align:center;transform:translateY(0.62px) rotate(.2deg) scaleX(0.9);transform-origin:center center;">AQUA</span>
<span class="t" style="font-size:6.8px;line-height:8.16px;top:586px;width:23.49px;color:#bcf8ff;left:426.21px;text-align:center;transform:translateY(0.92px) rotate(.2deg) scaleX(0.9);transform-origin:center center;">GYM</span>
<span class="t" style="font-size:6.7px;line-height:8.04px;top:386px;width:25.14px;color:#111;left:457.88px;text-align:center;transform:translateY(0.1px) rotate(.2deg) scaleX(0.93);transform-origin:center center;-webkit-text-stroke:0.15px #111;">15:15</span>
<span class="t" style="font-size:6.7px;line-height:8.04px;top:386px;width:25.14px;color:#111;left:490.43px;text-align:center;transform:translateY(0.1px) rotate(.2deg) scaleX(0.93);transform-origin:center center;-webkit-text-stroke:0.15px #111;">15:15</span>
<span class="t" style="font-size:6.7px;line-height:8.04px;top:405px;width:35.29px;color:#eefff2;left:452.8px;text-align:center;transform:translateY(0.4px) rotate(.2deg) scaleX(0.9);transform-origin:center center;-webkit-text-stroke:0.12px #eefff2;">ADULTO</span>
<span class="t" style="font-size:6.7px;line-height:8.04px;top:436px;width:35.29px;color:#eefff2;left:452.8px;text-align:center;transform:translateY(0.92px) rotate(.2deg) scaleX(0.9);transform-origin:center center;-webkit-text-stroke:0.12px #eefff2;">ADULTO</span>
<span class="t" style="font-size:5.1px;line-height:6.12px;top:459px;width:22.45px;color:#780000;left:459.22px;text-align:center;transform:translateY(0.31px) rotate(.2deg) scaleX(0.9);transform-origin:center center;-webkit-text-stroke:0.15px #780000;">ROJO</span>
<span class="t" style="font-size:5.3px;line-height:6.36px;top:469px;width:26.26px;color:#06280a;left:457.32px;text-align:center;transform:translateY(0.46px) rotate(.2deg) scaleX(0.9);transform-origin:center center;-webkit-text-stroke:0.22px #06280a;">VERDE</span>
<span class="t" style="font-size:5.2px;line-height:6.24px;top:479px;width:21.86px;color:#05203a;left:459.52px;text-align:center;transform:translateY(0.27px) rotate(.2deg) scaleX(0.9);transform-origin:center center;-webkit-text-stroke:0.22px #05203a;">AZUL</span>
<span class="t" style="font-size:5.1px;line-height:6.12px;top:490px;width:22.45px;color:#780000;left:459.22px;text-align:center;transform:translateY(0.04px) rotate(.2deg) scaleX(0.9);transform-origin:center center;-webkit-text-stroke:0.15px #780000;">ROJO</span>
<span class="t" style="font-size:5.3px;line-height:6.36px;top:500px;width:26.26px;color:#06280a;left:457.32px;text-align:center;transform:translateY(0.33px) rotate(.2deg) scaleX(0.9);transform-origin:center center;-webkit-text-stroke:0.22px #06280a;">VERDE</span>
<span class="t" style="font-size:5.2px;line-height:6.24px;top:510px;width:21.86px;color:#05203a;left:459.52px;text-align:center;transform:translateY(0.29px) rotate(.2deg) scaleX(0.9);transform-origin:center center;-webkit-text-stroke:0.22px #05203a;">AZUL</span>
<span class="t" style="font-size:6.7px;line-height:8.04px;top:540px;width:35.29px;color:#eefff2;left:452.8px;text-align:center;transform:translateY(0.52px) rotate(.2deg) scaleX(0.9);transform-origin:center center;-webkit-text-stroke:0.12px #eefff2;">ADULTO</span>
<span class="t" style="font-size:7.3px;line-height:8.76px;top:594px;width:33.97px;color:#0a1a10;left:453.46px;text-align:center;transform:translateY(0.2px) rotate(.2deg) scaleX(0.94);transform-origin:center center;-webkit-text-stroke:0.1px #0a1a10;">20:15 H</span>
<span class="t" style="font-size:6.7px;line-height:8.04px;top:613px;width:35.29px;color:#eefff2;left:452.8px;text-align:center;transform:translateY(0.42px) rotate(.2deg) scaleX(0.9);transform-origin:center center;-webkit-text-stroke:0.12px #eefff2;">ADULTO</span>
<span class="t" style="font-size:5.1px;line-height:6.12px;top:396px;width:22.45px;color:#780000;left:491.77px;text-align:center;transform:translateY(0.4px) rotate(.2deg) scaleX(0.9);transform-origin:center center;-webkit-text-stroke:0.15px #780000;">ROJO</span>
<span class="t" style="font-size:5.3px;line-height:6.36px;top:406px;width:26.26px;color:#06280a;left:489.87px;text-align:center;transform:translateY(0.83px) rotate(.2deg) scaleX(0.9);transform-origin:center center;-webkit-text-stroke:0.22px #06280a;">VERDE</span>
<span class="t" style="font-size:5.2px;line-height:6.24px;top:416px;width:21.86px;color:#05203a;left:492.07px;text-align:center;transform:translateY(0.93px) rotate(.2deg) scaleX(0.9);transform-origin:center center;-webkit-text-stroke:0.22px #05203a;">AZUL</span>
<span class="t" style="font-size:5.75px;line-height:6.9px;top:437px;width:36.11px;color:#ffecc0;left:484.94px;text-align:center;transform:translateY(0.87px) rotate(.2deg) scaleX(0.9);transform-origin:center center;-webkit-text-stroke:0.15px #ffecc0;">NARANJA</span>
<span class="t" style="font-size:5.75px;line-height:6.9px;top:468px;width:36.11px;color:#ffecc0;left:484.94px;text-align:center;transform:translateY(0.97px) rotate(.2deg) scaleX(0.9);transform-origin:center center;-webkit-text-stroke:0.15px #ffecc0;">NARANJA</span>
<span class="t" style="font-size:5.75px;line-height:6.9px;top:499px;width:36.11px;color:#ffecc0;left:484.94px;text-align:center;transform:translateY(0.85px) rotate(.2deg) scaleX(0.9);transform-origin:center center;-webkit-text-stroke:0.15px #ffecc0;">NARANJA</span>
<span class="t" style="font-size:5.3px;line-height:6.36px;top:437px;width:35.97px;color:#1a1a00;left:517.47px;text-align:center;transform:translateY(0.96px) rotate(.2deg) scaleX(0.9);transform-origin:center center;-webkit-text-stroke:0.22px #1a1a00;">AMARILLO</span>
<span class="t" style="font-size:5.3px;line-height:6.36px;top:469px;width:35.97px;color:#1a1a00;left:517.47px;text-align:center;transform:translateY(0.06px) rotate(.2deg) scaleX(0.9);transform-origin:center center;-webkit-text-stroke:0.22px #1a1a00;">AMARILLO</span>
<span class="t" style="font-size:5.3px;line-height:6.36px;top:499px;width:35.97px;color:#1a1a00;left:517.47px;text-align:center;transform:translateY(0.93px) rotate(.2deg) scaleX(0.9);transform-origin:center center;-webkit-text-stroke:0.22px #1a1a00;">AMARILLO</span>
<span class="t" style="font-size:6.4px;line-height:7.68px;top:438px;width:32.89px;color:#ffd4fb;left:551.7px;text-align:center;transform:translateY(0.43px) rotate(.2deg) scaleX(0.9);transform-origin:center center;-webkit-text-stroke:0.22px #ffd4fb;">SINCRO</span>
<span class="t" style="font-size:6.4px;line-height:7.68px;top:447px;width:32.07px;color:#ffd4fb;left:552.12px;text-align:center;transform:translateY(0.03px) rotate(.2deg) scaleX(0.9);transform-origin:center center;-webkit-text-stroke:0.22px #ffd4fb;">NIVEL 3</span>
<span class="t" style="font-size:6.4px;line-height:7.68px;top:479px;width:32.89px;color:#ffd4fb;left:551.7px;text-align:center;transform:translateY(0.93px) rotate(.2deg) scaleX(0.9);transform-origin:center center;-webkit-text-stroke:0.22px #ffd4fb;">SINCRO</span>
<span class="t" style="font-size:6.4px;line-height:7.68px;top:488px;width:32.07px;color:#ffd4fb;left:552.12px;text-align:center;transform:translateY(0.53px) rotate(.2deg) scaleX(0.9);transform-origin:center center;-webkit-text-stroke:0.22px #ffd4fb;">NIVEL 1</span>
<span class="t" style="font-size:6.8px;line-height:8.16px;top:578px;width:28.02px;color:#bcf8ff;left:756.64px;text-align:center;transform:translateY(0.62px) rotate(.2deg) scaleX(0.9);transform-origin:center center;">AQUA</span>
<span class="t" style="font-size:6.8px;line-height:8.16px;top:586px;width:23.49px;color:#bcf8ff;left:758.91px;text-align:center;transform:translateY(0.92px) rotate(.2deg) scaleX(0.9);transform-origin:center center;">GYM</span>
<span class="t" style="font-size:6.7px;line-height:8.04px;top:436px;width:35.29px;color:#eefff2;left:785.5px;text-align:center;transform:translateY(0.92px) rotate(.2deg) scaleX(0.9);transform-origin:center center;-webkit-text-stroke:0.12px #eefff2;">ADULTO</span>
<span class="t" style="font-size:6.7px;line-height:8.04px;top:498px;width:35.29px;color:#eefff2;left:785.5px;text-align:center;transform:translateY(0.9px) rotate(.2deg) scaleX(0.9);transform-origin:center center;-webkit-text-stroke:0.12px #eefff2;">ADULTO</span>
<span class="t" style="font-size:6.7px;line-height:8.04px;top:540px;width:35.29px;color:#eefff2;left:785.5px;text-align:center;transform:translateY(0.52px) rotate(.2deg) scaleX(0.9);transform-origin:center center;-webkit-text-stroke:0.12px #eefff2;">ADULTO</span>
<span class="t" style="font-size:5.1px;line-height:6.12px;top:427px;width:22.45px;color:#780000;left:824.37px;text-align:center;transform:translateY(0.91px) rotate(.2deg) scaleX(0.9);transform-origin:center center;-webkit-text-stroke:0.15px #780000;">ROJO</span>
<span class="t" style="font-size:5.3px;line-height:6.36px;top:438px;width:26.26px;color:#06280a;left:822.47px;text-align:center;transform:translateY(0.36px) rotate(.2deg) scaleX(0.9);transform-origin:center center;-webkit-text-stroke:0.22px #06280a;">VERDE</span>
<span class="t" style="font-size:5.2px;line-height:6.24px;top:448px;width:21.86px;color:#05203a;left:824.67px;text-align:center;transform:translateY(0.47px) rotate(.2deg) scaleX(0.9);transform-origin:center center;-webkit-text-stroke:0.22px #05203a;">AZUL</span>
<span class="t" style="font-size:5.1px;line-height:6.12px;top:459px;width:22.45px;color:#780000;left:824.37px;text-align:center;transform:translateY(0.31px) rotate(.2deg) scaleX(0.9);transform-origin:center center;-webkit-text-stroke:0.15px #780000;">ROJO</span>
<span class="t" style="font-size:5.3px;line-height:6.36px;top:469px;width:26.26px;color:#06280a;left:822.47px;text-align:center;transform:translateY(0.46px) rotate(.2deg) scaleX(0.9);transform-origin:center center;-webkit-text-stroke:0.22px #06280a;">VERDE</span>
<span class="t" style="font-size:5.2px;line-height:6.24px;top:479px;width:21.86px;color:#05203a;left:824.67px;text-align:center;transform:translateY(0.27px) rotate(.2deg) scaleX(0.9);transform-origin:center center;-webkit-text-stroke:0.22px #05203a;">AZUL</span>
<span class="t" style="font-size:5.1px;line-height:6.12px;top:490px;width:22.45px;color:#780000;left:824.37px;text-align:center;transform:translateY(0.04px) rotate(.2deg) scaleX(0.9);transform-origin:center center;-webkit-text-stroke:0.15px #780000;">ROJO</span>
<span class="t" style="font-size:5.3px;line-height:6.36px;top:500px;width:26.26px;color:#06280a;left:822.47px;text-align:center;transform:translateY(0.33px) rotate(.2deg) scaleX(0.9);transform-origin:center center;-webkit-text-stroke:0.22px #06280a;">VERDE</span>
<span class="t" style="font-size:5.2px;line-height:6.24px;top:510px;width:21.86px;color:#05203a;left:824.67px;text-align:center;transform:translateY(0.29px) rotate(.2deg) scaleX(0.9);transform-origin:center center;-webkit-text-stroke:0.22px #05203a;">AZUL</span>
<span class="t" style="font-size:5.75px;line-height:6.9px;top:437px;width:36.11px;color:#ffecc0;left:849.84px;text-align:center;transform:translateY(0.87px) rotate(.2deg) scaleX(0.9);transform-origin:center center;-webkit-text-stroke:0.15px #ffecc0;">NARANJA</span>
<span class="t" style="font-size:5.75px;line-height:6.9px;top:468px;width:36.11px;color:#ffecc0;left:849.84px;text-align:center;transform:translateY(0.97px) rotate(.2deg) scaleX(0.9);transform-origin:center center;-webkit-text-stroke:0.15px #ffecc0;">NARANJA</span>
<span class="t" style="font-size:5.75px;line-height:6.9px;top:499px;width:36.11px;color:#ffecc0;left:849.84px;text-align:center;transform:translateY(0.85px) rotate(.2deg) scaleX(0.9);transform-origin:center center;-webkit-text-stroke:0.15px #ffecc0;">NARANJA</span>
<span class="t" style="font-size:6.4px;line-height:7.68px;top:462px;width:38.23px;color:#ffd4fb;left:881.24px;text-align:center;transform:translateY(0.58px) rotate(.2deg) scaleX(0.9);transform-origin:center center;-webkit-text-stroke:0.22px #ffd4fb;">SINCRO 4</span>
<span class="t" style="font-size:5.3px;line-height:6.36px;top:499px;width:35.97px;color:#1a1a00;left:882.37px;text-align:center;transform:translateY(0.93px) rotate(.2deg) scaleX(0.9);transform-origin:center center;-webkit-text-stroke:0.22px #1a1a00;">AMARILLO</span>
<span class="t" style="font-size:5.45px;line-height:6.54px;top:522px;width:26.47px;color:#ffe6ee;left:887.11px;text-align:center;transform:translateY(0.15px) rotate(.2deg) scaleX(0.9);transform-origin:center center;-webkit-text-stroke:0.12px #ffe6ee;">CLASE</span>
<span class="t" style="font-size:5.45px;line-height:6.54px;top:530px;width:29.4px;color:#ffe6ee;left:885.65px;text-align:center;transform:translateY(0.15px) rotate(.2deg) scaleX(0.9);transform-origin:center center;-webkit-text-stroke:0.12px #ffe6ee;">PARTIC.</span>
<span class="t" style="font-size:5.1px;line-height:6.12px;top:198px;width:22.45px;color:#780000;left:925.47px;text-align:center;transform:translateY(0.74px) rotate(.2deg) scaleX(0.9);transform-origin:center center;-webkit-text-stroke:0.15px #780000;">ROJO</span>
<span class="t" style="font-size:5.3px;line-height:6.36px;top:209px;width:26.26px;color:#06280a;left:923.57px;text-align:center;transform:translateY(0.26px) rotate(.2deg) scaleX(0.9);transform-origin:center center;-webkit-text-stroke:0.22px #06280a;">VERDE</span>
<span class="t" style="font-size:5.2px;line-height:6.24px;top:219px;width:21.86px;color:#05203a;left:925.77px;text-align:center;transform:translateY(0.44px) rotate(.2deg) scaleX(0.9);transform-origin:center center;-webkit-text-stroke:0.22px #05203a;">AZUL</span>
<span class="t" style="font-size:6.7px;line-height:8.04px;top:207px;width:35.29px;color:#eefff2;left:951.35px;text-align:center;transform:translateY(0.82px) rotate(.2deg) scaleX(0.9);transform-origin:center center;-webkit-text-stroke:0.12px #eefff2;">ADULTO</span>
<span class="t" style="font-size:5.75px;line-height:6.9px;top:240px;width:36.11px;color:#ffecc0;left:918.64px;text-align:center;transform:translateY(0.37px) rotate(.2deg) scaleX(0.9);transform-origin:center center;-webkit-text-stroke:0.15px #ffecc0;">NARANJA</span>
<span class="t" style="font-size:5.3px;line-height:6.36px;top:240px;width:35.97px;color:#1a1a00;left:951.02px;text-align:center;transform:translateY(0.46px) rotate(.2deg) scaleX(0.9);transform-origin:center center;-webkit-text-stroke:0.22px #1a1a00;">AMARILLO</span>
<span class="t" style="font-size:5.2px;line-height:6.24px;top:270px;width:30.24px;color:#111;left:953.88px;text-align:center;transform:translateY(0.68px) rotate(.2deg) scaleX(0.9);transform-origin:center center;-webkit-text-stroke:0.1px #111;">BLANCO</span>
<span class="t" style="font-size:6.65px;line-height:7.98px;top:663px;width:35.09px;color:#111;left:117.61px;text-align:right;transform:translateY(0.97px) rotate(.2deg) scaleX(0.9);transform-origin:right center;-webkit-text-stroke:0.1px #111;">ADULTO</span>
<span class="t" style="font-size:7.35px;line-height:8.82px;top:679px;width:42.3px;color:#111;left:110.4px;text-align:right;transform:translateY(0.22px) rotate(.2deg) scaleX(0.9);transform-origin:right center;-webkit-text-stroke:0.1px #111;">A.D.I.M.A.</span>
<span class="t" style="font-size:7.2px;line-height:8.64px;top:664px;width:46.43px;color:#111;left:272.67px;text-align:right;transform:translateY(0.22px) rotate(.2deg) scaleX(0.93);transform-origin:right center;-webkit-text-stroke:0.1px #111;">2006 - 2016</span>
<span class="t" style="font-size:6.95px;line-height:8.34px;top:679px;width:83.8px;color:#111;left:267.4px;text-align:right;transform:translateY(0.07px) rotate(.2deg) scaleX(0.9);transform-origin:right center;-webkit-text-stroke:0.1px #111;">AQUAGYM - AQUAHIIT</span>
<span class="t" style="font-size:7px;line-height:8.4px;top:664px;width:41.48px;color:#111;left:448.16px;text-align:center;transform:translateY(0.09px) rotate(.2deg) scaleX(0.93);transform-origin:center center;-webkit-text-stroke:0.1px #111;">2017-2018</span>
<span class="t" style="font-size:6.05px;line-height:7.26px;top:677px;width:87.09px;color:#111;left:424.65px;text-align:center;transform:translateY(0.93px) rotate(.2deg) scaleX(0.9);transform-origin:center center;-webkit-text-stroke:0.15px #111;">NATACIÓN SINCRONIZADA</span>
<span class="t" style="font-size:7px;line-height:8.4px;top:664px;width:41.48px;color:#111;left:610.12px;text-align:right;transform:translateY(0.09px) rotate(.2deg) scaleX(0.93);transform-origin:right center;-webkit-text-stroke:0.1px #111;">2019-2020</span>
<span class="t" style="font-size:7px;line-height:8.4px;top:679px;width:42.87px;color:#111;left:608.73px;text-align:right;transform:translateY(0.39px) rotate(.2deg) scaleX(0.9);transform-origin:right center;-webkit-text-stroke:0.1px #111;">E.E.M NAT</span>
<span class="t" style="font-size:7px;line-height:8.4px;top:664px;width:23.57px;color:#111;left:794.63px;text-align:right;transform:translateY(0.09px) rotate(.2deg) scaleX(0.93);transform-origin:right center;-webkit-text-stroke:0.1px #111;">2021</span>
<span class="t" style="font-size:5.65px;line-height:6.78px;top:679px;width:57.27px;color:#111;left:760.93px;text-align:right;transform:translateY(0.1px) rotate(.2deg) scaleX(0.9);transform-origin:right center;-webkit-text-stroke:0.15px #111;">MATRONATACIÓN</span>
<span class="t" style="font-size:16.7px;line-height:20.04px;top:48px;width:75.74px;color:#18275c;left:350.78px;text-align:center;transform:translateY(0.21px) rotate(.2deg) scaleX(0.85);transform-origin:center center;-webkit-text-stroke:0.35px #18275c;">CLASES</span>
<span class="t" style="font-size:16.7px;line-height:20.04px;top:48px;width:93.65px;color:#18275c;left:417.77px;text-align:center;transform:translateY(0.21px) rotate(.2deg) scaleX(1.01);transform-origin:center center;-webkit-text-stroke:0.35px #18275c;">NATACIÓN</span>
<span class="t" style="font-size:16.7px;line-height:20.04px;top:48px;width:115.62px;color:#18275c;left:507.69px;text-align:center;transform:translateY(0.21px) rotate(.2deg) scaleX(0.99);transform-origin:center center;-webkit-text-stroke:0.35px #18275c;">TEMPORADA</span>
<span class="t" style="font-size:16.7px;line-height:20.04px;top:48px;width:45.15px;color:#18275c;left:618.97px;text-align:center;transform:translateY(0.21px) rotate(.2deg) scaleX(1.01);transform-origin:center center;-webkit-text-stroke:0.35px #18275c;">2023</span>
<span class="t" style="font-size:16.7px;line-height:20.04px;top:48px;width:13.56px;color:#18275c;left:662.42px;text-align:center;transform:translateY(0.21px) rotate(.2deg) scaleX(0.82);transform-origin:center center;-webkit-text-stroke:0.35px #18275c;">-</span>
<span class="t" style="font-size:16.7px;line-height:20.04px;top:48px;width:45.15px;color:#18275c;left:673.47px;text-align:center;transform:translateY(0.21px) rotate(.2deg) scaleX(1.02);transform-origin:center center;-webkit-text-stroke:0.35px #18275c;">2024</span>
<svg style="position:absolute;left:58.6px;top:45px" width="70" height="23" viewBox="0 0 70 23">
<text transform="translate(0.81 13.7) scale(1.36 1)" font-family="Liberation Sans, Arial, sans-serif" font-weight="700" fill="#16264a" font-size="12.6" stroke="#16264a" stroke-width="0.8" stroke-linejoin="miter">T</text><text transform="translate(13.71 13.7) scale(1.53 1)" font-family="Liberation Sans, Arial, sans-serif" font-weight="700" fill="#16264a" font-size="12.6" stroke="#16264a" stroke-width="0.8" stroke-linejoin="miter">O</text><text transform="translate(30.3 13.7) scale(1.16 1)" font-family="Liberation Sans, Arial, sans-serif" font-weight="700" fill="#16264a" font-size="16.6" stroke="#16264a" stroke-width="0.5" stroke-linejoin="miter">n</text><text transform="translate(43.17 13.7) scale(1.15 1)" font-family="Liberation Sans, Arial, sans-serif" font-weight="700" fill="#16264a" font-size="16.6" stroke="#16264a" stroke-width="0.5" stroke-linejoin="miter">u</text><text transform="translate(55.98 13.7) scale(1.15 1)" font-family="Liberation Sans, Arial, sans-serif" font-weight="700" fill="#16264a" font-size="16.6" stroke="#16264a" stroke-width="0.5" stroke-linejoin="miter">s</text>
<rect x="23.6" y="3.2" width="5.6" height="3.6" fill="#3ab9de"/>
<rect x="1.4" y="17.2" width="64.8" height="2.7" fill="#16264a"/>
<text transform="translate(11.5 19.75) scale(1.1 1)" font-family="Liberation Sans, Arial, sans-serif" font-weight="700" font-size="2.6" fill="#b9c4dc">AGUA &amp; SPORT THERAPY</text>
</svg>
<svg style="position:absolute;left:946.4px;top:45px" width="70" height="23" viewBox="0 0 70 23">
<text transform="translate(0.81 13.7) scale(1.36 1)" font-family="Liberation Sans, Arial, sans-serif" font-weight="700" fill="#16264a" font-size="12.6" stroke="#16264a" stroke-width="0.8" stroke-linejoin="miter">T</text><text transform="translate(13.71 13.7) scale(1.53 1)" font-family="Liberation Sans, Arial, sans-serif" font-weight="700" fill="#16264a" font-size="12.6" stroke="#16264a" stroke-width="0.8" stroke-linejoin="miter">O</text><text transform="translate(30.3 13.7) scale(1.16 1)" font-family="Liberation Sans, Arial, sans-serif" font-weight="700" fill="#16264a" font-size="16.6" stroke="#16264a" stroke-width="0.5" stroke-linejoin="miter">n</text><text transform="translate(43.17 13.7) scale(1.15 1)" font-family="Liberation Sans, Arial, sans-serif" font-weight="700" fill="#16264a" font-size="16.6" stroke="#16264a" stroke-width="0.5" stroke-linejoin="miter">u</text><text transform="translate(55.98 13.7) scale(1.15 1)" font-family="Liberation Sans, Arial, sans-serif" font-weight="700" fill="#16264a" font-size="16.6" stroke="#16264a" stroke-width="0.5" stroke-linejoin="miter">s</text>
<rect x="23.6" y="3.2" width="5.6" height="3.6" fill="#3ab9de"/>
<rect x="1.4" y="17.2" width="64.8" height="2.7" fill="#16264a"/>
<text transform="translate(11.5 19.75) scale(1.1 1)" font-family="Liberation Sans, Arial, sans-serif" font-weight="700" font-size="2.6" fill="#b9c4dc">AGUA &amp; SPORT THERAPY</text>
</svg>
</div></body></html>
